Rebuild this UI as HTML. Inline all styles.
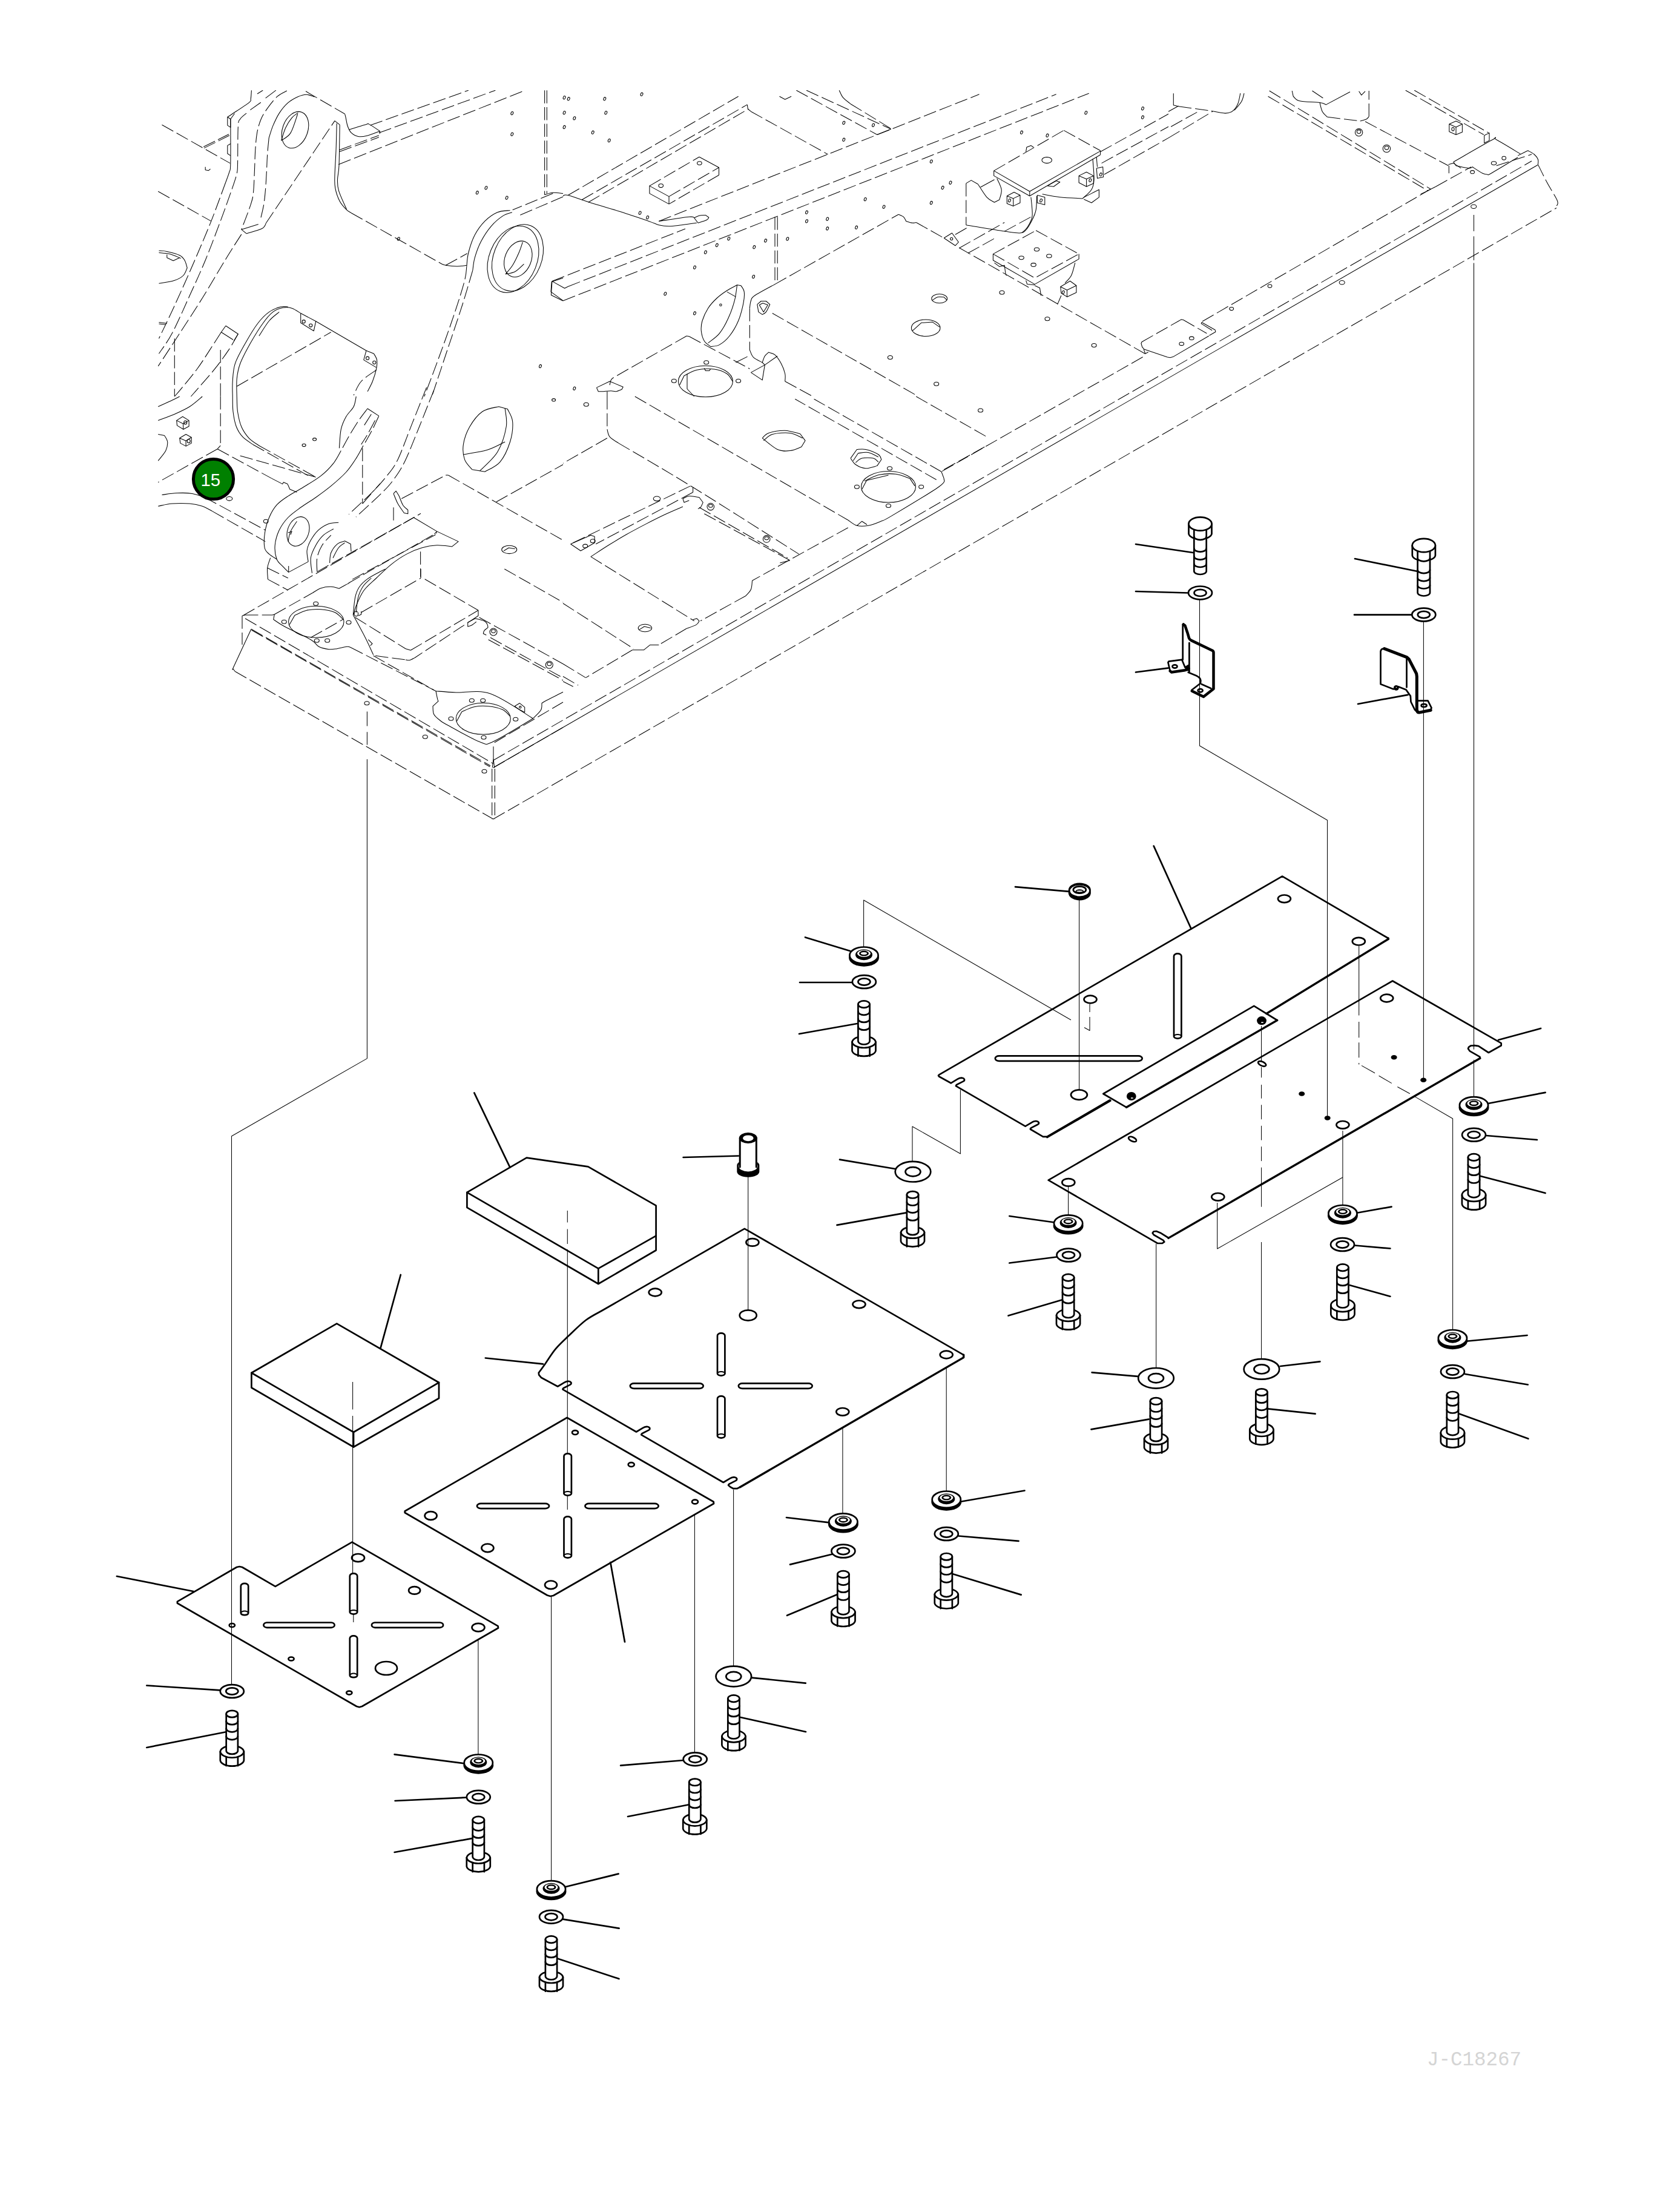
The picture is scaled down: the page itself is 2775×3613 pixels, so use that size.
<!DOCTYPE html>
<html lang="en"><head><meta charset="utf-8"><title>Exploded parts diagram</title>
<style>
html,body{margin:0;padding:0;background:#fff}
body{width:2775px;height:3613px;overflow:hidden;font-family:"Liberation Sans",sans-serif}
svg{display:block}
path,ellipse,circle{fill:none;stroke:#000;stroke-linecap:round;stroke-linejoin:round}
.k{stroke-width:2.7}
.kf{stroke-width:2.7;fill:#fff}
.k2{stroke-width:2}
.k3{stroke-width:3}
.k4{stroke-width:4.2}
.k33{stroke-width:3.4}
.k45{stroke-width:4.5}
.k48{stroke-width:5}
.t{stroke-width:1.05;stroke-linecap:butt}
.td{stroke-width:1.05;stroke-dasharray:30 10;stroke-linecap:butt}
.fs{stroke-width:1.05;stroke-linecap:butt;stroke:#000}
.fd{stroke-width:1.05;stroke-dasharray:21.5 6.2;stroke-linecap:butt;stroke:#000}
.dot{fill:#000;stroke:none}
</style></head><body>
<svg width="2775" height="3613" viewBox="0 0 2775 3613">
<defs><clipPath id="fc"><rect x="261" y="149" width="2514" height="1300"/></clipPath></defs>
<g id="frame" clip-path="url(#fc)">
<path class="fs" d="M815 1268 L2540 272.5"/>
<path class="fd" d="M815 1256 L2530 266"/>
<path class="fd" d="M815 1353 L2571 343.5"/>
<path class="fd" d="M1556 778.6 L1888 589.6"/>
<path class="fd" d="M1986 531 L2363 312.5"/>
<path class="fd" d="M1088.3 365.4 L1617.5 155.8"/>
<path class="fd" d="M911.9 464.6 L1132 378"/>
<path class="fd" d="M938 473.5 L1744.6 155.8"/>
<path class="fd" d="M929.8 497 L1798.7 154.2"/>
<path class="fs" d="M911.9 464.6 L932.7 476.2 L938 473.5"/>
<path class="fs" d="M911.9 464.6 L910.4 487.5 L929.8 497"/>
<path class="fd" d="M267.5 206.2 L380 269.6"/>
<path class="fd" d="M261.2 316.2 L348.8 365.4"/>
<path class="fs" d="M336.2 242.5 L355 233.3"/>
<path class="fs" d="M337.1 244.6 L355.8 235.4"/>
<path class="fs" d="M360 230.8 L377.9 221.7"/>
<path class="fs" d="M360.8 232.9 L378.8 223.8"/>
<path class="fs" d="M415.4 149.2 C415.2 151.5 414.9 159.9 414.2 163.3 C413.5 166.7 416.6 165.3 411.2 169.6 C405.9 173.9 388 185.2 382.1 189.2 C376.2 193.1 376.9 192.6 375.8 193.3 L375.8 207.1 L380.8 210.4 L380.8 196.7 L375.8 193.3"/>
<path class="fs" d="M380.8 196.7 L387.5 187.5"/>
<path class="fs" d="M380.8 237.5 L375.8 240.4 L375.8 253.8 L380.8 257.1"/>
<path class="fs" d="M380.8 196.7 C380.8 209 381.2 256.3 380.8 270.8 C380.5 285.4 380.1 279.2 378.8 284.2 C377.4 289.2 373.9 298.1 372.9 300.8"/>
<path class="fd" d="M372.9 300.8 C368.9 311.6 357.3 343.9 348.8 365.4 C340.2 386.9 331.7 406.7 321.7 430 C311.6 453.3 298.2 483.5 288.3 505 C278.5 526.5 266.8 550.1 262.5 559.2"/>
<path class="fd" d="M407.1 187.1 C405.3 188.7 399 193 396.7 196.7 C394.4 200.3 394 196.7 393.3 209.2 C392.6 221.7 392.9 258.5 392.5 271.7 C392.1 284.9 392.6 281 390.8 288.3 C389.1 295.6 386.7 302.2 382.1 315.4 C377.5 328.6 370.5 348.4 363.3 367.5 C356.2 386.6 347.5 409.9 339.2 430 C330.8 450.1 322.5 468.2 313.3 488.3 C304.2 508.5 292.6 534.9 284.2 550.8 C275.7 566.8 266.1 578.6 262.5 584.2"/>
<path class="fd" d="M398.8 387.1 C394.2 394.2 382.4 412.4 371.7 430 C360.9 447.6 346.7 472.4 334.2 492.5 C321.7 512.6 308.8 532.1 296.7 550.8 C284.5 569.6 267.2 596 261.2 605"/>
<path class="fd" d="M430.8 169.2 L413.3 181.7"/>
<path class="fd" d="M455.8 149.2 L437.1 163.3"/>
<path class="fs" d="M425 155 L434.2 149.2"/>
<path class="fd" d="M473.8 150 C471.2 151.5 463.5 154.5 458.3 159.2 C453.1 163.8 447 171.7 442.5 177.9 C438 184.2 434.2 189.7 431.2 196.7 C428.3 203.6 426.2 210.9 424.6 219.6 C423 228.3 422.4 238.3 421.7 248.8 C421 259.2 421 270.3 420.4 282.1 C419.9 293.9 419.5 309.9 418.3 319.6 C417.2 329.3 416.6 330.5 413.3 340.4 C410.1 350.3 401.2 372.7 398.8 379.2"/>
<path class="fs" d="M519.6 160 C517.4 159.4 510.9 156.2 506.2 156.2 C501.6 156.2 496.9 157.6 491.7 160 C486.5 162.4 480.1 165.9 475 170.4 C469.9 174.9 465.3 180.8 461.2 187.1 C457.2 193.3 453.7 201.1 450.8 207.9 C448 214.7 445.3 224.6 444.2 227.9"/>
<path class="fd" d="M444.2 227.9 C443.8 232.4 442.3 246 441.7 255 C441 264 441 272 440.4 282.1 C439.9 292.2 439.2 305.8 438.3 315.4 C437.5 325 436.8 331.6 435.4 339.6 C434 347.6 430.9 359.4 430 363.3"/>
<path class="fs" d="M398.8 379.2 L426.7 370.4"/>
<path class="fs" d="M398.8 379.2 L407.1 385.8 C411.4 384.4 427.5 380.4 432.9 377.5 C438.3 374.6 438.5 369.9 439.6 368.3"/>
<path class="fd" d="M439.6 368.3 L552.9 199.6"/>
<path class="fs" d="M552.9 199.6 L561.2 206.2"/>
<path class="fd" d="M505 150.8 L569.6 188.3"/>
<path class="fs" d="M569.6 188.3 C569.9 189.4 570.5 191.2 571.2 194.6 C572 197.9 572.7 204.2 574.2 208.3 C575.6 212.4 577.1 216.3 580 219.2 C582.9 222 587.3 224.6 591.7 225.4 C596 226.3 600.3 225.6 606.2 224.2 C612.2 222.7 624 217.9 627.5 216.7 L627.5 220.8"/>
<path class="fs" d="M576.7 214.2 C581.4 212.7 599.4 206.9 605 205.4 C610.6 204 606.2 203.5 610 205.4 C613.8 207.3 624.6 214.8 627.5 216.7"/>
<path class="fs" d="M556.2 203.8 C556 211.2 555.6 234.1 555 248.8 C554.4 263.4 553.1 281.3 552.9 291.7 C552.7 302 552.4 304 553.8 310.8 C555.1 317.6 558.1 326.5 561.2 332.5 C564.4 338.5 569.4 343.5 572.5 346.7 C575.6 349.9 578.8 350.8 580 351.7"/>
<path class="fs" d="M561.2 206.2 C561 217.4 560.6 257.8 560 272.9 C559.4 288 557.6 289.6 557.5 296.7 C557.4 303.8 557.1 307.2 559.6 315.4 C562.1 323.6 570.3 340.8 572.5 345.8"/>
<path class="fd" d="M580 351.7 L730 436.2"/>
<path class="fs" d="M730 436.2 C731 436.6 732.1 437.7 736.2 438.3 C740.4 439 749.2 440 755 440 C760.8 440 768.2 438.6 770.8 438.3"/>
<path class="fd" d="M736.2 438.3 L771.7 418.8"/>
<path class="fd" d="M560 247.9 L625.8 223.8"/>
<path class="fd" d="M560.4 250.8 L625.8 226.7"/>
<path class="fd" d="M559.2 271.7 L865.4 150"/>
<path class="fd" d="M611.2 207.1 L773.8 149.2"/>
<path class="fd" d="M625.8 219.6 L818.3 149.2"/>
<path class="fd" d="M899.6 149.2 L899.6 321.7"/>
<path class="fd" d="M903.3 149.2 L903.3 319.6"/>
<path class="fs" d="M899.6 321.7 C901.9 321.1 908.3 318.7 913.3 318.3 C918.4 318 927.2 319.4 930 319.6"/>
<path class="fd" d="M913.3 319.6 L846.7 346.7"/>
<path class="fd" d="M930 325 L855 357.1"/>
<path class="fs" d="M842.5 347.5 C839 348.1 828.6 347.8 821.7 350.8 C814.7 353.8 807.1 359.2 800.8 365.4 C794.6 371.7 788.7 379.7 784.2 388.3 C779.7 397 776 408.8 773.8 417.5 C771.5 426.2 771.3 436.6 770.8 440.4"/>
<path class="fs" d="M845.8 350.8 C843.2 351.9 835.8 353.3 830 357.1 C824.2 360.9 817.2 366.8 811.2 373.8 C805.3 380.7 799.1 390.1 794.6 398.8 C790.1 407.4 786.5 417.8 784.2 425.8 C781.9 433.8 781.4 443.2 780.8 446.7"/>
<path class="fd" d="M770.8 440.4 C770.3 444.2 770.8 450.5 767.5 463.3 C764.2 476.2 757.8 496.7 750.8 517.5 C743.9 538.3 734.2 565.4 725.8 588.3 C717.5 611.2 705 643.9 700.8 655"/>
<path class="fd" d="M780.8 446.7 C777.9 456.4 770.4 482.8 763.3 505 C756.2 527.2 746.7 555 738.3 580 C730 605 717.5 642.5 713.3 655"/>
<path class="fs" d="M262.5 414.2 C264.7 414.4 270.1 414.2 275.8 415.4 C281.5 416.7 291.8 419.2 296.7 421.7 C301.5 424.1 302.9 426.5 305 430 C307.1 433.5 308.5 440.4 309.2 442.5 C308.1 444.6 306.4 451.5 302.9 455 C299.4 458.5 295.1 461.1 288.3 463.3 C281.6 465.6 266.8 467.5 262.5 468.3"/>
<path class="fs" d="M262.5 417.5 C265.4 417.8 274 418.1 280 419.6 C286 421.1 295.6 425.5 298.8 426.7"/>
<path class="fs" d="M275.8 420.4 L275.8 425.8 L286.2 430.8 L296.7 425.8"/>
<path class="fs" d="M262.5 532.5 L275.8 534.2"/>
<path class="fs" d="M262.5 535 L273.8 536.2"/>
<path class="fs" d="M372.9 538.3 L393.3 551.7 L386.2 563.3"/>
<path class="fs" d="M372.9 538.3 L365.4 548.8 L385 561.2"/>
<path class="fd" d="M365.4 548.8 C362.3 553.6 353.3 567.8 346.7 577.9 C340.1 588 333.5 598.8 325.8 609.2 C318.2 619.6 307.1 632.8 300.8 640.4 C294.6 648.1 290.4 652.6 288.3 655"/>
<path class="fd" d="M393.3 551.7 C390.8 556 384.3 568.3 377.9 577.9 C371.5 587.5 363 599.1 355 609.2 C347 619.2 336.6 630.7 330 638.3 C323.4 646 317.8 652.2 315.4 655"/>
<path class="fd" d="M288.3 559.2 L288.3 655"/>
<path class="fd" d="M364.2 577.9 L364.2 655"/>
<path class="fs" d="M391.2 655 C391.2 650.1 390.3 634.9 391.2 625.8 C392.2 616.8 393 610.6 396.7 600.8 C400.3 591.1 407.1 578.6 413.3 567.5 C419.6 556.4 427.9 542.8 434.2 534.2 C440.4 525.5 445.3 519.7 450.8 515.4 C456.4 511.1 462.3 509.4 467.5 508.3 C472.7 507.3 477.2 507.6 482.1 509.2 C486.9 510.7 494.2 516.1 496.7 517.5"/>
<path class="fs" d="M384.2 655 C384.2 650.8 383.5 639 384.2 630 C384.9 621 384.9 611.2 388.3 600.8 C391.8 590.4 398.8 578.6 405 567.5 C411.2 556.4 419.2 542.8 425.8 534.2 C432.4 525.5 438.3 519.9 444.6 515.4 C450.8 510.9 458.1 508.5 463.3 507.1 C468.5 505.7 473.8 507.1 475.8 507.1"/>
<path class="fs" d="M427.9 555 C430.7 550.8 439 536.6 444.6 530 C450.1 523.4 458.5 517.8 461.2 515.4"/>
<path class="fs" d="M496.7 517.5 L521.7 530.8 L518.3 546.7 L496.7 533.3 L496.7 517.5"/>
<path class="fs" d="M521.7 530.8 L605 579.2"/>
<path class="fs" d="M605 579.2 L617.5 584.2 C618.3 585.9 621.8 590.4 622.5 594.6 C623.2 598.8 622.8 603.3 621.7 609.2 C620.5 615.1 617.8 623.8 615.4 630 C613 636.2 608.5 643.9 607.1 646.7"/>
<path class="fs" d="M605 579.2 L600.8 594.6 L621.7 607.1"/>
<path class="fd" d="M391.2 638.3 L546.7 548.8"/>
<path class="fd" d="M621.7 611.2 C617.5 614.4 602.9 623.1 596.7 630 C590.4 636.9 586.3 649.1 584.2 652.9"/>
<path class="fs" d="M930 459.2 L911.2 465.4 L910 482.1 L930 496.7"/>
<path class="fs" d="M339.2 275.8 L339.2 280.8 L344.6 281.7 L347.5 279.2"/>
<ellipse class="fs" cx="487.5" cy="214.6" rx="20.8" ry="31.2" transform="rotate(20 487.5 214.6)"/>
<path class="fs" d="M464.6 232.1 C465.8 228.6 468.8 217.5 471.7 211.2 C474.6 205 478.6 198.8 482.1 194.6 C485.6 190.4 490.8 187.6 492.5 186.2"/>
<path class="fs" d="M464.6 232.1 C467.2 230 475.5 226.9 480 219.6 C484.5 212.3 489.7 193.5 491.7 188.3"/>
<ellipse class="fs" cx="855" cy="425.8" rx="39.6" ry="57.1" transform="rotate(22 855 425.8)"/>
<ellipse class="fs" cx="847.5" cy="428.3" rx="39.6" ry="57.1" transform="rotate(22 847.5 428.3)"/>
<ellipse class="fs" cx="855.8" cy="427.9" rx="21.7" ry="30.8" transform="rotate(22 855.8 427.9)"/>
<path class="fs" d="M835 452.9 C836.9 450.5 843 444.2 846.7 438.3 C850.3 432.4 854.3 423.9 857.1 417.5 C859.9 411.1 862.3 402.9 863.3 400"/>
<path class="fs" d="M835 452.9 C837.6 452.2 845.8 451.5 850.8 448.8 C855.9 446 863 438.3 865.4 436.2"/>
<ellipse class="fs" cx="845.8" cy="187.1" rx="1.8" ry="2.7" transform="rotate(20 845.8 187.1)"/>
<ellipse class="fs" cx="845.8" cy="221.7" rx="1.8" ry="2.7" transform="rotate(20 845.8 221.7)"/>
<ellipse class="fs" cx="788.3" cy="318.3" rx="1.8" ry="2.7" transform="rotate(20 788.3 318.3)"/>
<ellipse class="fs" cx="802.9" cy="310.4" rx="1.8" ry="2.7" transform="rotate(20 802.9 310.4)"/>
<ellipse class="fs" cx="837.1" cy="326.7" rx="1.8" ry="2.7" transform="rotate(20 837.1 326.7)"/>
<ellipse class="fs" cx="658.3" cy="394.6" rx="1.8" ry="2.7" transform="rotate(20 658.3 394.6)"/>
<ellipse class="fs" cx="892.5" cy="605" rx="1.8" ry="2.7" transform="rotate(20 892.5 605)"/>
<ellipse class="fs" cx="501.7" cy="531.2" rx="2.6" ry="2.6"/>
<ellipse class="fs" cx="513.3" cy="537.5" rx="2.6" ry="2.6"/>
<ellipse class="fs" cx="607.1" cy="591.7" rx="2.6" ry="2.6"/>
<ellipse class="fs" cx="618.3" cy="598.8" rx="2.6" ry="2.6"/>
<path class="fd" d="M938.3 322.5 L1219.6 159.2"/>
<path class="fd" d="M961.2 330 L1234.2 172.9"/>
<path class="fd" d="M971.7 334.2 L1236.2 180"/>
<path class="fs" d="M1234.2 172.9 L1235.4 180 L1240.4 184.2"/>
<path class="fd" d="M1240.4 184.2 L1367.5 255"/>
<path class="fd" d="M1315.4 149.2 L1448.8 222.5"/>
<path class="fd" d="M1332.1 149.2 L1471.7 213.3"/>
<path class="fs" d="M1448.8 222.5 L1471.7 213.3"/>
<path class="fs" d="M1386.2 149.2 C1387.3 151.2 1389.4 157.5 1392.5 161.2 C1395.6 165 1402.9 169.9 1405 171.7"/>
<path class="fd" d="M1405 171.7 L1471.7 212.5"/>
<path class="fs" d="M1287.5 159.2 L1296.7 164.2 L1307.1 159.2"/>
<path class="fs" d="M930 323.8 C931.4 323.5 930.7 320.6 938.3 322.5 C946 324.4 961.2 330.4 975.8 335 C990.4 339.6 1009.9 344.9 1025.8 350 C1041.8 355.1 1061.2 361.8 1071.7 365.4 C1082.1 369 1082.8 370.3 1088.3 371.7 C1093.9 373.1 1098.8 373.8 1105 373.8 C1111.2 373.8 1118.2 372.6 1125.8 371.7 C1133.5 370.8 1146.7 368.9 1150.8 368.3"/>
<path class="fs" d="M1088.3 365.4 C1096.7 364.2 1128.6 359.2 1138.3 358.3 C1148.1 357.4 1145.3 359.7 1146.7 360 L1152.9 368.3"/>
<path class="fs" d="M1146.7 360 C1148.1 359.4 1151.9 357 1155 356.2 C1158.1 355.5 1163.7 355.6 1165.4 355.4 L1170.8 359.2 C1170.3 359.9 1170.5 361.8 1167.5 363.3 C1164.5 364.9 1155.3 367.5 1152.9 368.3"/>
<path class="fd" d="M1072.9 307.1 L1155 259.2"/>
<path class="fs" d="M1155 259.2 L1187.5 276.7 L1187.5 289.2"/>
<path class="fd" d="M1187.5 289.2 L1105 337.1"/>
<path class="fs" d="M1105 337.1 L1072.9 319.6 L1072.9 307.1 L1105 324.6 L1105 337.1"/>
<path class="fd" d="M1105 324.6 L1187.5 276.7"/>
<path class="fd" d="M1280 358.3 L1280 469.6"/>
<path class="fd" d="M1284.2 358.3 L1284.2 468.3"/>
<path class="fd" d="M1280 469.6 L1484.2 354.2"/>
<path class="fs" d="M1484.2 354.2 C1485.6 354.9 1490.4 356.5 1492.5 358.3 C1494.6 360.2 1496 364.2 1496.7 365.4 C1498.4 365.9 1504.3 368 1507.1 368.3 C1509.9 368.7 1512.3 367.6 1513.3 367.5"/>
<path class="fs" d="M1280 469.6 C1274.4 472.7 1253.3 483.8 1246.7 488.3 C1240.1 492.8 1241.8 493.2 1240.4 496.7 C1239 500.1 1238.7 507.1 1238.3 509.2"/>
<path class="fd" d="M1238.3 509.2 L1238.3 577.9"/>
<path class="fs" d="M1238.3 577.9 C1239.4 580 1241.1 586.9 1244.6 590.4 C1248.1 593.9 1256.7 597.4 1259.2 598.8 C1259.9 597 1261.6 591.1 1263.3 588.3 C1265.1 585.6 1268.5 583.1 1269.6 582.1 C1271.3 582.8 1276.5 583.1 1280 586.2 C1283.5 589.4 1287.6 595.6 1290.4 600.8 C1293.2 606 1295.6 612.6 1296.7 617.5 C1297.7 622.4 1296.7 627.9 1296.7 630"/>
<path class="fd" d="M1296.7 630 L1342.5 655"/>
<path class="fs" d="M1240.4 615.4 L1263.3 602.9 L1259.2 598.8"/>
<path class="fs" d="M1240.4 615.4 L1259.2 627.9 L1263.3 602.9 L1284.2 588.3"/>
<path class="fd" d="M1275.8 517.5 L1513.3 652.9"/>
<path class="fs" d="M1250.8 502.9 L1257.1 497.5 L1265.4 497.5 L1271.7 502.9 C1270.6 505 1267.5 512.6 1265.4 515.4 C1263.3 518.2 1260.2 518.9 1259.2 519.6 L1252.9 515.4 L1250.8 502.9"/>
<path class="fs" d="M1254.2 503.8 L1260 500.8 L1268.3 503.8 L1261.2 515.4 L1254.2 503.8"/>
<path class="fs" d="M1217.5 470.8 L1223.8 471.7 C1224.7 473.4 1228.5 477.2 1229.2 482.1 C1229.9 486.9 1229.5 492.8 1227.9 500.8 C1226.3 508.8 1223.4 521 1219.6 530 C1215.8 539 1210.2 548.4 1205 555 C1199.8 561.6 1193.5 566.7 1188.3 569.6 C1183.1 572.5 1176.2 572 1173.8 572.5 C1172 571 1165.9 567.6 1163.3 563.3 C1160.8 559 1158.9 552.2 1158.3 546.7 C1157.8 541.1 1158.1 536.2 1160 530 C1161.9 523.8 1165.6 515.4 1169.6 509.2 C1173.6 502.9 1179 497.4 1184.2 492.5 C1189.4 487.6 1195.3 483.6 1200.8 480 C1206.4 476.4 1214.7 472.4 1217.5 470.8"/>
<path class="fs" d="M1217.5 470.8 C1216.8 475.1 1215.8 487.5 1213.3 496.7 C1210.9 505.8 1207.1 516.8 1202.9 525.8 C1198.8 534.9 1193.9 544 1188.3 550.8 C1182.8 557.6 1172.7 564 1169.6 566.7"/>
<path class="fs" d="M1200.8 482.1 L1215.4 490.4"/>
<path class="fd" d="M1134.2 555 L1013.3 623.8"/>
<path class="fs" d="M1134.2 555 L1138.3 555.8"/>
<path class="fd" d="M1138.3 555.8 L1238.3 609.2"/>
<path class="fd" d="M1215.4 598.8 L1240.4 586.2"/>
<path class="fs" d="M1013.3 623.8 C1012.6 624.4 1010.2 625.8 1009.2 627.9 C1008.1 630 1007.4 634.9 1007.1 636.2"/>
<path class="fs" d="M985.4 640.4 L1007.1 630 L1029.2 639.2 L1027.1 643.3 C1025.5 643.9 1020.5 646.3 1017.5 646.7 C1014.5 647.1 1012.6 645.8 1009.2 645.8 C1005.7 645.8 1000.1 646.5 996.7 646.7 C993.2 646.8 989.7 646.7 988.3 646.7 L985.4 640.4"/>
<path class="fs" d="M1002.9 646.7 L1002.9 655"/>
<ellipse class="fs" cx="1091.7" cy="306.7" rx="3.8" ry="2.9"/>
<ellipse class="fs" cx="1155.4" cy="269.6" rx="3.8" ry="2.9"/>
<ellipse class="fs" cx="1190.4" cy="503.8" rx="1.7" ry="1.7"/>
<ellipse class="fs" cx="932.1" cy="161.2" rx="1.8" ry="2.7" transform="rotate(20 932.1 161.2)"/>
<ellipse class="fs" cx="939.2" cy="163.3" rx="1.8" ry="2.7" transform="rotate(20 939.2 163.3)"/>
<ellipse class="fs" cx="998.8" cy="163.3" rx="1.8" ry="2.7" transform="rotate(20 998.8 163.3)"/>
<ellipse class="fs" cx="1060" cy="155.8" rx="1.8" ry="2.7" transform="rotate(20 1060 155.8)"/>
<ellipse class="fs" cx="932.1" cy="186.2" rx="1.8" ry="2.7" transform="rotate(20 932.1 186.2)"/>
<ellipse class="fs" cx="948.8" cy="195.4" rx="1.8" ry="2.7" transform="rotate(20 948.8 195.4)"/>
<ellipse class="fs" cx="1000.8" cy="186.2" rx="1.8" ry="2.7" transform="rotate(20 1000.8 186.2)"/>
<ellipse class="fs" cx="932.1" cy="210" rx="1.8" ry="2.7" transform="rotate(20 932.1 210)"/>
<ellipse class="fs" cx="979.2" cy="218.8" rx="1.8" ry="2.7" transform="rotate(20 979.2 218.8)"/>
<ellipse class="fs" cx="1006.2" cy="232.1" rx="1.8" ry="2.7" transform="rotate(20 1006.2 232.1)"/>
<ellipse class="fs" cx="1057.1" cy="351.7" rx="1.8" ry="2.7" transform="rotate(20 1057.1 351.7)"/>
<ellipse class="fs" cx="1069.6" cy="359.2" rx="1.8" ry="2.7" transform="rotate(20 1069.6 359.2)"/>
<ellipse class="fs" cx="1393.8" cy="202.9" rx="1.8" ry="2.7" transform="rotate(20 1393.8 202.9)"/>
<ellipse class="fs" cx="1442.5" cy="206.7" rx="1.8" ry="2.7" transform="rotate(20 1442.5 206.7)"/>
<ellipse class="fs" cx="1393.8" cy="230.8" rx="1.8" ry="2.7" transform="rotate(20 1393.8 230.8)"/>
<ellipse class="fs" cx="1538.3" cy="266.7" rx="1.8" ry="2.7" transform="rotate(20 1538.3 266.7)"/>
<ellipse class="fs" cx="1557.1" cy="310" rx="1.8" ry="2.7" transform="rotate(20 1557.1 310)"/>
<ellipse class="fs" cx="1570" cy="301.7" rx="1.8" ry="2.7" transform="rotate(20 1570 301.7)"/>
<ellipse class="fs" cx="1429.2" cy="329.2" rx="1.8" ry="2.7" transform="rotate(20 1429.2 329.2)"/>
<ellipse class="fs" cx="1460" cy="341.7" rx="1.8" ry="2.7" transform="rotate(20 1460 341.7)"/>
<ellipse class="fs" cx="1538.3" cy="335" rx="1.8" ry="2.7" transform="rotate(20 1538.3 335)"/>
<ellipse class="fs" cx="1332.5" cy="350.8" rx="1.8" ry="2.7" transform="rotate(20 1332.5 350.8)"/>
<ellipse class="fs" cx="1332.5" cy="365.4" rx="1.8" ry="2.7" transform="rotate(20 1332.5 365.4)"/>
<ellipse class="fs" cx="1366.7" cy="361.7" rx="1.8" ry="2.7" transform="rotate(20 1366.7 361.7)"/>
<ellipse class="fs" cx="1366.7" cy="377.5" rx="1.8" ry="2.7" transform="rotate(20 1366.7 377.5)"/>
<ellipse class="fs" cx="1414.6" cy="375.8" rx="1.8" ry="2.7" transform="rotate(20 1414.6 375.8)"/>
<ellipse class="fs" cx="1203.8" cy="394.2" rx="1.8" ry="2.7" transform="rotate(20 1203.8 394.2)"/>
<ellipse class="fs" cx="1184.2" cy="405" rx="1.8" ry="2.7" transform="rotate(20 1184.2 405)"/>
<ellipse class="fs" cx="1165.4" cy="416.7" rx="1.8" ry="2.7" transform="rotate(20 1165.4 416.7)"/>
<ellipse class="fs" cx="1245.8" cy="408.3" rx="1.8" ry="2.7" transform="rotate(20 1245.8 408.3)"/>
<ellipse class="fs" cx="1264.6" cy="397.5" rx="1.8" ry="2.7" transform="rotate(20 1264.6 397.5)"/>
<ellipse class="fs" cx="1300.8" cy="394.6" rx="1.8" ry="2.7" transform="rotate(20 1300.8 394.6)"/>
<ellipse class="fs" cx="1147.5" cy="441.7" rx="1.8" ry="2.7" transform="rotate(20 1147.5 441.7)"/>
<ellipse class="fs" cx="1244.6" cy="457.1" rx="1.8" ry="2.7" transform="rotate(20 1244.6 457.1)"/>
<ellipse class="fs" cx="1098.8" cy="485.4" rx="1.8" ry="2.7" transform="rotate(20 1098.8 485.4)"/>
<ellipse class="fs" cx="1147.5" cy="517.5" rx="1.8" ry="2.7" transform="rotate(20 1147.5 517.5)"/>
<ellipse class="fs" cx="948.8" cy="641.7" rx="1.8" ry="2.7" transform="rotate(20 948.8 641.7)"/>
<ellipse class="fs" cx="1165.4" cy="630" rx="45" ry="25.8"/>
<path class="fs" d="M1122.5 636.2 L1130 620.8 C1133.5 619.2 1142.5 613.1 1150.8 611.2 C1159.2 609.4 1171.7 609 1180 610 C1188.3 611 1195.8 614.2 1200.8 617.5 C1205.8 620.8 1208.5 627.9 1210 630"/>
<path class="fs" d="M1135 617.5 L1135 642.5 L1146.7 655"/>
<path class="fs" d="M1163.3 608.3 L1165.4 612.5 L1171.7 612.5 L1173.8 609.2"/>
<ellipse class="fs" cx="1113.3" cy="629.2" rx="4" ry="3"/>
<ellipse class="fs" cx="1219.6" cy="629.2" rx="4" ry="3"/>
<ellipse class="fs" cx="1166.7" cy="598.8" rx="4" ry="3"/>
<path class="fd" d="M1513.3 367.5 L1559.2 393.3"/>
<path class="fd" d="M1584.2 409.2 L1892.5 585"/>
<path class="fs" d="M1559.2 393.3 L1572.5 385 L1583.3 400 L1577.9 405.8 L1559.2 393.3"/>
<path class="fd" d="M1577.9 387.5 L1596.7 376.7"/>
<path class="fd" d="M1584.2 410 L1659.2 367.5"/>
<path class="fd" d="M1598.8 418.3 L1646.7 391.7"/>
<path class="fd" d="M1641.7 282.1 L1757.1 215.4"/>
<path class="fd" d="M1757.1 215.4 L1817.5 248.8"/>
<path class="fs" d="M1817.5 248.8 L1817.5 255.8"/>
<path class="fs" d="M1641.7 282.1 L1641.7 290.4 L1700.8 323.8 L1817.5 255.8"/>
<path class="fs" d="M1641.7 282.1 L1700.8 316.2 L1817.5 249.6"/>
<path class="fs" d="M1700.8 316.2 L1700.8 323.8"/>
<path class="fs" d="M1694.6 250.8 L1695.8 243.3 L1702.9 240.4 L1707.1 243.3"/>
<path class="fs" d="M1595.8 302.9 L1604.2 297.9 L1615.4 304.2"/>
<path class="fd" d="M1595.8 302.9 L1595.8 371.7"/>
<path class="fs" d="M1595.8 371.7 C1606.4 373.4 1644.4 379.9 1659.2 382.1 C1673.9 384.3 1678.3 385.3 1684.2 385 C1690.1 384.7 1691.1 383.6 1694.6 380 C1698.1 376.4 1702.2 368.9 1705 363.3 C1707.8 357.8 1710 353.3 1711.2 346.7 C1712.5 340.1 1712.3 327.6 1712.5 323.8"/>
<path class="fs" d="M1615.4 304.2 C1617.8 307.8 1625.5 320.8 1630 325.8 C1634.5 330.8 1640.4 332.8 1642.5 334.2 L1650.8 330 C1651.4 327.2 1654.9 319.2 1654.2 313.3 C1653.5 307.4 1647.9 297.7 1646.7 294.6"/>
<path class="fs" d="M1619.6 309.2 L1642.5 296.7"/>
<path class="fs" d="M1702.9 325.8 C1703.3 331 1706 348.8 1705 357.1 C1704 365.4 1699.4 371.3 1696.7 375.8 C1693.9 380.3 1689.7 382.8 1688.3 384.2"/>
<path class="fs" d="M1663.3 323.8 L1675 317.5 L1685 322.5 L1685 335 L1673.8 340.4 L1663.3 336.2 L1663.3 323.8 L1673.8 327.9 L1685 322.5"/>
<path class="fs" d="M1673.8 327.9 L1673.8 340.4"/>
<path class="fs" d="M1713.3 322.5 L1725.8 325.8 L1725.8 338.3 L1713.3 335 L1713.3 322.5"/>
<path class="fs" d="M1782.1 290.4 L1794.6 284.2 L1806.2 290.4 L1806.2 302.9 L1794.6 308.3 L1782.1 301.7 L1782.1 290.4 L1794.6 295.8 L1806.2 290.4"/>
<path class="fs" d="M1794.6 295.8 L1794.6 308.3"/>
<path class="fs" d="M1811.2 277.9 L1821.7 275.8 L1822.5 292.5 L1812.5 294.6 L1811.2 277.9"/>
<path class="fs" d="M1790.4 325.8 C1792.5 324.8 1798.8 321.7 1802.9 319.6 C1807.1 317.5 1813.3 314.4 1815.4 313.3 L1815.4 325.8 L1802.9 335 L1790.4 329.2"/>
<path class="fs" d="M1805 262.5 C1805.3 268.2 1807.4 288.2 1807.1 296.7 C1806.7 305.1 1806 308.1 1802.9 313.3 C1799.8 318.5 1790.8 325.5 1788.3 327.9 C1782.1 327.6 1761.9 327 1750.8 325.8 C1739.7 324.7 1726.5 321.7 1721.7 320.8"/>
<path class="fs" d="M1811.2 260 L1812.5 275.8"/>
<path class="fd" d="M1659.2 382.1 L1709.2 355"/>
<path class="fs" d="M1730 307.1 L1744.6 298.8 L1750.8 300.8 L1740.4 308.3 L1730 307.1"/>
<path class="fd" d="M1817.5 250.8 L1930 188.3"/>
<path class="fd" d="M1819.6 269.6 L1930 209.2"/>
<path class="fd" d="M1823.8 288.3 L1930 227.9"/>
<path class="fd" d="M1640.4 419.6 L1711.2 380.8"/>
<path class="fd" d="M1711.2 380.8 L1782.1 419.6"/>
<path class="fs" d="M1782.1 419.6 L1782.1 427.9 L1709.2 469.6 L1640.4 430 L1640.4 419.6"/>
<path class="fd" d="M1640.4 419.6 L1709.2 459.2 L1782.1 419.6"/>
<path class="fs" d="M1642.5 434.2 L1650.8 440.4 L1659.2 438.3 C1659.5 440.8 1660.6 450.1 1661.2 452.9 C1661.9 455.7 1663 454.7 1663.3 455"/>
<path class="fs" d="M1694.6 463.3 L1696.7 469.6 L1709.2 470.8"/>
<path class="fs" d="M1709.2 471.7 L1717.5 475.8 L1719.6 488.3"/>
<path class="fs" d="M1775.8 434.2 C1774.8 437.6 1772.4 449.4 1769.6 455 C1766.8 460.6 1760.9 465.4 1759.2 467.5"/>
<path class="fs" d="M1751.7 473.8 L1767.5 464.2 L1777.9 471.7 L1777.9 483.3 L1762.5 490.4 L1752.9 484.2 L1751.7 473.8 L1762.5 479.2 L1777.9 471.7"/>
<path class="fs" d="M1762.5 479.2 L1762.5 490.4"/>
<path class="fd" d="M1752.9 488.3 L1746.7 502.9"/>
<ellipse class="fs" cx="1729.2" cy="264.6" rx="8.3" ry="5"/>
<ellipse class="fs" cx="1551.7" cy="493.3" rx="12.9" ry="7.5"/>
<path class="fs" d="M1540.4 495.8 C1541.8 495 1545.6 491.7 1548.8 490.8 C1551.9 490 1557.4 490.8 1559.2 490.8 L1564.2 495.8"/>
<ellipse class="fs" cx="1529.2" cy="541.7" rx="23.8" ry="13.8"/>
<path class="fs" d="M1507.1 546.7 L1521.7 533.3 L1540.4 532.1 L1552.1 540.4"/>
<ellipse class="fs" cx="1712.5" cy="412.1" rx="4.2" ry="2.9"/>
<ellipse class="fs" cx="1687.1" cy="425.8" rx="4.2" ry="2.9"/>
<ellipse class="fs" cx="1732.9" cy="422.9" rx="4.2" ry="2.9"/>
<ellipse class="fs" cx="1707.1" cy="437.5" rx="4.2" ry="2.9"/>
<ellipse class="fs" cx="1571.7" cy="394.6" rx="2.1" ry="2.1"/>
<ellipse class="fs" cx="1793.8" cy="186.2" rx="1.8" ry="2.7" transform="rotate(20 1793.8 186.2)"/>
<ellipse class="fs" cx="1887.5" cy="179.2" rx="1.8" ry="2.7" transform="rotate(20 1887.5 179.2)"/>
<ellipse class="fs" cx="1887.5" cy="193.8" rx="1.8" ry="2.7" transform="rotate(20 1887.5 193.8)"/>
<ellipse class="fs" cx="1687.5" cy="218.8" rx="1.8" ry="2.7" transform="rotate(20 1687.5 218.8)"/>
<ellipse class="fs" cx="1730" cy="223.8" rx="1.8" ry="2.7" transform="rotate(20 1730 223.8)"/>
<ellipse class="fs" cx="1667.5" cy="331.2" rx="1.8" ry="2.7" transform="rotate(20 1667.5 331.2)"/>
<ellipse class="fs" cx="1719.6" cy="331.2" rx="1.8" ry="2.7" transform="rotate(20 1719.6 331.2)"/>
<ellipse class="fs" cx="1800.8" cy="297.9" rx="1.8" ry="2.7" transform="rotate(20 1800.8 297.9)"/>
<ellipse class="fs" cx="1818.3" cy="288.3" rx="1.8" ry="2.7" transform="rotate(20 1818.3 288.3)"/>
<ellipse class="fs" cx="1756.2" cy="482.9" rx="1.8" ry="2.7" transform="rotate(20 1756.2 482.9)"/>
<ellipse class="fs" cx="1655" cy="483.3" rx="4" ry="3"/>
<ellipse class="fs" cx="1730" cy="526.7" rx="4" ry="3"/>
<ellipse class="fs" cx="1807.1" cy="570.4" rx="4" ry="3"/>
<ellipse class="fs" cx="1470.4" cy="590.4" rx="4" ry="3"/>
<ellipse class="fs" cx="1546.7" cy="634.2" rx="4" ry="3"/>
<path class="fs" d="M2523.8 248.8 C2525.5 249.8 2531.4 252.6 2534.2 255 C2536.9 257.4 2539.4 260.6 2540.4 263.3 C2541.5 266.1 2540.4 270.3 2540.4 271.7"/>
<path class="fd" d="M2540.4 271.7 C2542.8 276.5 2549.8 291.1 2555 300.8 C2560.2 310.6 2568.8 323.8 2571.7 330 C2574.6 336.2 2572.4 336.9 2572.5 338.3 L2567.5 343.3"/>
<path class="fs" d="M2507.1 257.1 L2523.8 248.8"/>
<path class="fd" d="M2471.7 273.8 L2530 255"/>
<path class="fs" d="M2400.8 267.5 C2411.6 261.4 2453.6 236.9 2465.4 230.8 C2477.2 224.7 2464 226.9 2471.7 230.8 C2479.3 234.7 2504.7 250.3 2511.2 254.2"/>
<path class="fs" d="M2400.8 267.5 L2405 273.8 C2408.5 274.4 2421.3 277.6 2425.8 277.9 C2430.3 278.3 2431 276.2 2432.1 275.8 C2434.9 277.6 2444.6 284.2 2448.8 286.2 C2452.9 288.3 2454.7 288.3 2457.1 288.3 C2459.5 288.3 2455 291 2463.3 286.2 C2471.7 281.5 2499.8 264.4 2507.1 260"/>
<path class="fs" d="M2451.7 223.8 L2460 219.6 L2460 232.1 L2451.7 236.2 L2451.7 223.8"/>
<path class="fs" d="M2393.8 205 L2405 200 L2415.4 205 L2415.4 218.3 L2405 222.5 L2393.8 217.5 L2393.8 205 L2405 210 L2415.4 205"/>
<path class="fs" d="M2405 210 L2405 222.5"/>
<path class="fd" d="M2321.7 149.2 L2450.8 222.5"/>
<path class="fd" d="M2336.2 149.2 L2459.2 219.6"/>
<path class="fd" d="M2096.7 150 L2363.3 312.5"/>
<path class="fd" d="M2094.6 159.2 L2359.2 315.4"/>
<path class="fd" d="M2255 200.8 L2392.5 273.8"/>
<path class="fs" d="M2346.7 320.8 C2349.4 319.4 2359.2 314.6 2363.3 312.5 C2367.5 310.4 2370.3 309 2371.7 308.3"/>
<path class="fs" d="M2392.5 271.7 L2400.8 269.6 L2413.3 277.9"/>
<path class="fs" d="M2393.3 273.8 L2393.3 286.2"/>
<path class="fd" d="M2371.7 308.3 L2430 275.8"/>
<path class="fs" d="M1938.3 154.2 L1938.3 173.8 L1946.7 175.8"/>
<path class="fd" d="M1946.7 175.8 L2000.8 183.3"/>
<path class="fs" d="M2000.8 183.3 C2004.7 184 2017.8 187.1 2023.8 187.1 C2029.7 187.1 2032.8 185.9 2036.2 183.3 C2039.7 180.8 2042.5 176.5 2044.6 171.7 C2046.7 166.8 2048.1 157.1 2048.8 154.2"/>
<path class="fs" d="M2039.2 182.1 C2041.1 179.7 2048.2 172.2 2050.8 167.5 C2053.5 162.8 2054.3 156.4 2055 154.2"/>
<path class="fd" d="M1930 184.2 L1946.7 175"/>
<path class="fd" d="M1934.2 209.2 L1977.9 185"/>
<path class="fd" d="M1930 227.9 L2002.9 184.2"/>
<path class="fs" d="M2134.2 150 L2136.2 159.2 C2138 160.4 2139.4 164.9 2146.7 166.7 C2154 168.4 2172.7 168.5 2180 169.6 C2187.3 170.6 2188.7 172.4 2190.4 172.9 L2230 151.7"/>
<path class="fs" d="M2180 169.6 C2180.7 172 2182.1 180.2 2184.2 184.2 C2186.2 188.1 2191.1 191.8 2192.5 193.3"/>
<path class="fd" d="M2192.5 193.3 L2246.7 200"/>
<path class="fs" d="M2246.7 200 C2248.4 199.4 2254.7 197.9 2257.1 196.7 C2259.5 195.4 2260.6 193.2 2261.2 192.5"/>
<path class="fd" d="M2261.2 192.5 L2261.2 150"/>
<path class="fs" d="M2244.6 150.8 L2248.8 157.1 L2255 150.8"/>
<path class="fd" d="M2167.5 150 L2190.4 165.4"/>
<ellipse class="fs" cx="2467.5" cy="269.6" rx="4.2" ry="2.9"/>
<ellipse class="fs" cx="2484.2" cy="261.2" rx="3.3" ry="2.9"/>
<ellipse class="fs" cx="2400" cy="213.3" rx="2.1" ry="2.9"/>
<ellipse class="fs" cx="2244.6" cy="218.8" rx="6.2" ry="6.2"/>
<ellipse class="fs" cx="2244.6" cy="217.5" rx="3.3" ry="2.9"/>
<ellipse class="fs" cx="2290.4" cy="245.4" rx="6.2" ry="6.2"/>
<ellipse class="fs" cx="2290.4" cy="244.2" rx="3.3" ry="2.9"/>
<ellipse class="fs" cx="2097.5" cy="472.5" rx="3.4" ry="2.6"/>
<ellipse class="fs" cx="2034.2" cy="510" rx="3.4" ry="2.6"/>
<ellipse class="fs" cx="2432.1" cy="284.2" rx="3.4" ry="2.6"/>
<ellipse class="fs" cx="2216.7" cy="466.7" rx="4.5" ry="3.2"/>
<ellipse class="fs" cx="2434.2" cy="341.2" rx="4.5" ry="3.2"/>
<path class="fd" d="M364.2 655 L364.2 736.2"/>
<path class="fs" d="M364.2 736.2 L359.2 741.7"/>
<path class="fd" d="M359.2 741.7 L261.2 796.7"/>
<path class="fd" d="M359.2 741.7 L448.8 790.4"/>
<path class="fs" d="M448.8 790.4 L466.7 799.6 L468.3 796.7 L475 799.6 L478.8 808.3 L490.4 813.3"/>
<path class="fd" d="M396.7 752.9 L521.7 788.3"/>
<path class="fs" d="M261.2 694.6 C265.8 692.8 279.7 688 288.3 684.2 C297 680.3 305.7 676.5 313.3 671.7 C321 666.8 330.7 657.8 334.2 655"/>
<path class="fs" d="M261.2 671.7 C265.1 669.9 278.3 664 284.2 661.2 C290.1 658.5 294.6 656 296.7 655"/>
<path class="fs" d="M291.7 694.6 L301.7 688.3 L312.1 694.6 L312.1 704.2 L302.9 709.2 L292.5 702.9 L291.7 694.6 L302.5 700 L312.1 694.6"/>
<path class="fs" d="M302.5 700 L302.9 709.2"/>
<path class="fs" d="M296.7 723.8 L307.1 717.5 L316.2 722.5 L316.2 732.1 L307.1 737.1 L297.9 732.1 L296.7 723.8 L307.1 728.3 L316.2 722.5"/>
<path class="fs" d="M307.1 728.3 L307.1 737.1"/>
<path class="fs" d="M261.2 717.5 L271.7 719.6 C272.5 721.3 276.3 725.8 276.7 730 C277 734.2 276.3 739.4 273.8 744.6 C271.2 749.8 263.3 758.5 261.2 761.2"/>
<path class="fs" d="M267.5 817.5 C271.7 817 284.2 814.9 292.5 814.6 C300.8 814.2 309.9 814.2 317.5 815.4 C325.1 816.6 334.9 820.6 338.3 821.7"/>
<path class="fs" d="M261.2 836.2 C265.1 835.6 275.5 832.8 284.2 832.1 C292.8 831.4 305 831.4 313.3 832.1 C321.7 832.8 327.9 834.2 334.2 836.2 C340.4 838.3 348.1 843.2 350.8 844.6"/>
<path class="fd" d="M338.3 821.7 L438.3 875.8"/>
<path class="fd" d="M350.8 844.6 L438.3 894.6"/>
<path class="fs" d="M384.2 655 C384.3 659.2 384 671.7 385 680 C386 688.3 387.8 698.1 390.4 705 C393.1 711.9 396.3 716.8 400.8 721.7 C405.3 726.5 414.7 732.1 417.5 734.2"/>
<path class="fd" d="M417.5 734.2 L513.3 788.3"/>
<path class="fs" d="M391.2 655 C391.5 659.2 391.2 671.7 392.5 680 C393.8 688.3 395.6 697.7 398.8 705 C401.9 712.3 406.4 718.5 411.2 723.8 C416.1 729 425.1 734.2 427.9 736.2"/>
<path class="fd" d="M427.9 736.2 L521.7 788.3"/>
<path class="fd" d="M607.1 675 C604.7 678.3 597.7 686.8 592.5 694.6 C587.3 702.4 580.7 713.3 575.8 721.7 C571 730 565.4 740.8 563.3 744.6"/>
<path class="fs" d="M563.3 744.6 C561.2 748.1 556.4 758.5 550.8 765.4 C545.3 772.4 538.3 779.7 530 786.2 C521.7 792.8 509.9 799.4 500.8 805 C491.8 810.6 483.1 814.7 475.8 819.6 C468.5 824.4 462.3 828.3 457.1 834.2 C451.9 840.1 447.8 847.4 444.6 855 C441.3 862.6 438.8 871.7 437.5 880 C436.2 888.3 435.9 899.1 437.1 905 C438.3 910.9 441.3 912.3 444.6 915.4 C447.9 918.5 455 922.4 457.1 923.8"/>
<path class="fs" d="M607.1 675 L625.8 687.1"/>
<path class="fd" d="M625.8 687.1 C624.1 690.8 618.9 702.4 615.4 709.2 C611.9 716 607.6 723.4 605 727.9 C602.4 732.4 600.8 734.9 600 736.2"/>
<path class="fs" d="M600 736.2 C598.1 739.7 593.1 749.8 588.3 757.1 C583.6 764.4 578.6 772.4 571.7 780 C564.7 787.6 555 796 546.7 802.9 C538.3 809.9 530 815.8 521.7 821.7 C513.3 827.6 504.3 832.8 496.7 838.3 C489 843.9 481.7 848.8 475.8 855 C469.9 861.2 464.9 868.2 461.2 875.8 C457.6 883.5 454.9 892.8 454.2 900.8 C453.5 908.8 454.9 917.8 457.1 923.8 C459.3 929.7 464.2 932.6 467.5 936.2 C470.8 939.9 475.1 943.9 476.7 945.4"/>
<path class="fs" d="M588.3 655 C587.6 657.8 586.9 666.1 584.2 671.7 C581.4 677.2 575.1 682.1 571.7 688.3 C568.2 694.6 565.2 700.5 563.3 709.2 C561.5 717.8 560.9 735.2 560.4 740.4"/>
<path class="fd" d="M619.6 694.6 C617.5 698.4 610.9 710.9 607.1 717.5 C603.3 724.1 598.4 731.4 596.7 734.2"/>
<path class="fd" d="M613.3 684.2 L598.8 707.1"/>
<path class="fs" d="M476.7 945.4 L476.7 935"/>
<path class="fs" d="M476.7 945.4 L509.2 927.9"/>
<path class="fs" d="M509.2 927.9 C508.8 924.8 506.4 915.1 507.1 909.2 C507.8 903.3 510.2 898.1 513.3 892.5 C516.5 886.9 521 880.3 525.8 875.8 C530.7 871.3 536.9 867.5 542.5 865.4 C548.1 863.3 556.4 863.7 559.2 863.3"/>
<path class="fs" d="M515.4 946.7 C515.1 942.5 512.3 929.3 513.3 921.7 C514.4 914 518.2 907.1 521.7 900.8 C525.1 894.6 529.3 888.7 534.2 884.2 C539 879.7 548.1 875.5 550.8 873.8"/>
<path class="fs" d="M544.6 930 C544.9 927.2 544.6 918.5 546.7 913.3 C548.8 908.1 553.3 902 557.1 898.8 C560.9 895.5 567.5 894.6 569.6 893.8 L579.2 898.8 L580 911.2"/>
<path class="fs" d="M550 921.7 C551.5 918.9 555.9 909.2 559.2 905 C562.4 900.8 567.8 898.1 569.6 896.7"/>
<path class="fd" d="M523.8 944.6 C523.8 940.8 522.4 929 523.8 921.7 C525.1 914.4 528.3 907.1 532.1 900.8 C535.9 894.6 544.2 886.9 546.7 884.2"/>
<path class="fd" d="M598.8 740.4 L598.8 832.1"/>
<path class="fd" d="M598.8 832.1 L627.9 798.8"/>
<path class="fd" d="M704.6 640 C700.6 649.9 688.8 679.7 680.8 699.6 C672.9 719.4 664.2 744.5 657.1 759.2 C649.9 773.8 645.1 778.4 637.9 787.5 C630.8 796.6 624.4 803.4 614.2 813.8 C603.9 824.1 582.6 843.6 576.2 849.6"/>
<path class="fd" d="M716.7 644.6 C712.7 654.5 700.8 684.7 692.9 704.2 C685 723.6 676.3 746.5 669.2 761.2 C662 776 656.7 783.3 650 792.5 C643.3 801.7 639.1 806 628.8 816.2 C618.4 826.5 594.7 847.8 587.9 854.2"/>
<path class="fs" d="M446.7 921.7 C445.8 924.4 442.4 932.4 441.7 938.3 C441 944.2 442.4 954 442.5 957.1"/>
<path class="fd" d="M442.5 957.1 L475.8 975"/>
<path class="fd" d="M441.7 938.3 L475.8 955"/>
<path class="fs" d="M650 815.4 L654.2 811.2 C655 812.6 657.3 815.8 659.2 819.6 C661 823.4 663 830.3 665.4 834.2 C667.8 838 672.4 841.1 673.8 842.5 L673.8 848.8 L667.5 847.5 C665.8 844.9 660 837.4 657.1 832.1 C654.2 826.7 651.2 818.2 650 815.4"/>
<path class="fd" d="M650 838.3 L650 863.3"/>
<path class="fd" d="M663.3 823.8 L736.2 785"/>
<path class="fs" d="M736.2 785 L740.4 785"/>
<path class="fd" d="M740.4 785 L930 892.5"/>
<path class="fd" d="M819.6 829.2 L930 767.5"/>
<path class="fs" d="M823.8 671.7 L838.3 675.8 C839.7 679.3 846 687.6 846.7 696.7 C847.4 705.7 846 718.9 842.5 730 C839 741.1 832.8 755.1 825.8 763.3 C818.9 771.5 805 776.5 800.8 779.2 L780 775.8 C777.9 773.1 769.9 766.1 767.5 759.2 C765.1 752.2 764 743.2 765.4 734.2 C766.8 725.1 770.6 714 775.8 705 C781 696 788.7 685.6 796.7 680 C804.7 674.4 819.2 673.1 823.8 671.7"/>
<path class="fs" d="M834.2 675 C834.5 680 838.3 693.1 836.2 705 C834.2 716.9 829 734.5 821.7 746.7 C814.4 758.8 797.4 772.7 792.5 777.9"/>
<path class="fs" d="M765.4 750.8 C772 749.6 793.5 746.8 805 743.3 C816.5 739.9 829.3 732.2 834.2 730"/>
<path class="fd" d="M523.8 944.6 L683.3 855"/>
<path class="fs" d="M683.3 855 L721.7 877.9"/>
<path class="fs" d="M721.7 877.9 L757.1 894.6 L746.7 902.9 C742.5 902.6 730 900.5 721.7 900.8 C713.3 901.2 705 902.6 696.7 905 C688.3 907.4 680 910.9 671.7 915.4 C663.3 919.9 655 925.5 646.7 932.1 C638.3 938.7 629.3 947.7 621.7 955 C614 962.3 606.4 968.2 600.8 975.8 C595.3 983.5 591.1 994.2 588.3 1000.8 C585.6 1007.4 584.9 1013 584.2 1015.4"/>
<path class="fs" d="M721.7 877.9 L717.5 882.1"/>
<path class="fd" d="M575.8 963.3 L721.7 880"/>
<path class="fd" d="M582.1 957.1 L719.6 883.3"/>
<path class="fd" d="M694.6 911.2 L694.6 952.9"/>
<ellipse class="fs" cx="492.5" cy="877.9" rx="17.5" ry="25" transform="rotate(20 492.5 877.9)"/>
<path class="fs" d="M475.8 894.6 C476.5 891.8 477.6 883.5 480 877.9 C482.4 872.4 488.7 864 490.4 861.2"/>
<path class="fs" d="M475.8 880 L482.1 877.9 L480 883.3"/>
<ellipse class="fs" cx="378.8" cy="823.8" rx="5" ry="3.3"/>
<ellipse class="fs" cx="439.2" cy="861.2" rx="3.8" ry="2.9"/>
<ellipse class="fs" cx="841.2" cy="907.9" rx="12.5" ry="6.7"/>
<path class="fs" d="M832.1 910 L840.4 905 L850.8 906.7"/>
<ellipse class="fs" cx="502.1" cy="735.4" rx="3" ry="2.2"/>
<ellipse class="fs" cx="519.6" cy="725.8" rx="3" ry="2.2"/>
<ellipse class="fs" cx="914.6" cy="660.8" rx="3" ry="2.2"/>
<ellipse class="fs" cx="306.2" cy="697.9" rx="2.5" ry="3"/>
<ellipse class="fs" cx="311.7" cy="728.8" rx="2.5" ry="3"/>
<path class="fs" d="M400 1017.3 L405 1016"/>
<path class="fd" d="M405 1016 L450 1016"/>
<path class="fs" d="M450 1016 L453.3 1015"/>
<path class="fd" d="M400 1017.3 L400 1065"/>
<path class="fs" d="M415 1039.3 C410.3 1049.4 391.7 1089.1 386.7 1100 C381.7 1110.9 385.3 1104.2 385 1105 L388.3 1109.3"/>
<path class="fd" d="M388.3 1109.3 L815 1353.3"/>
<path class="fd" d="M415 1039.3 L810 1265"/>
<path class="fd" d="M415.7 1041 L809.3 1266.7"/>
<path class="fd" d="M405 1021.7 L815 1261.7"/>
<path class="fd" d="M401.7 1016.7 L695 848.3"/>
<path class="fd" d="M812.7 1270 L812.7 1353.3"/>
<path class="fd" d="M817.3 1270 L817.3 1353.3"/>
<path class="fs" d="M813.3 1268.3 L815 1253.3 L816.7 1268.3"/>
<path class="fd" d="M815 1233.3 L815 1253.3"/>
<path class="fs" d="M453.3 1015 L451.7 1023.3 C454.7 1025.3 459.7 1029.4 470 1035 C480.3 1040.6 503.9 1051.1 513.3 1056.7 C522.8 1062.2 521.7 1065.7 526.7 1068.3 C531.7 1071 538.3 1072.1 543.3 1072.7 C548.3 1073.2 551.7 1072.4 556.7 1071.7 C561.7 1070.9 569.4 1068.6 573.3 1068.3 C577.2 1068.1 578.9 1069.7 580 1070"/>
<path class="fd" d="M453.3 1015 L516.7 979.3"/>
<path class="fs" d="M516.7 979.3 C518.9 978.1 525 973.3 530 971.7 C535 970 541.7 969.2 546.7 969.3 C551.7 969.4 557.8 971.8 560 972.3 C561.7 971.4 567.2 968.2 570 966.7 C572.8 965.2 575.6 963.9 576.7 963.3"/>
<path class="fd" d="M513.3 1053.3 L566.7 1023.3"/>
<path class="fs" d="M583.3 1016 C583.9 1011.1 585 994.3 586.7 986.7 C588.3 979 590 975 593.3 970 C596.7 965 601.1 960.8 606.7 956.7 C612.2 952.5 621.7 947.8 626.7 945 C631.7 942.2 635 940.8 636.7 940"/>
<path class="fs" d="M588.3 1011.7 C588.9 1007.5 589.7 993.9 591.7 986.7 C593.6 979.4 596.4 973.6 600 968.3 C603.6 963.1 611.1 957.2 613.3 955"/>
<path class="fs" d="M591.7 1017.3 L596.7 1015 L596.7 1010"/>
<path class="fs" d="M583.3 1016 C586.7 1022.2 597.8 1042.4 603.3 1053.3 C608.9 1064.3 614.4 1076.9 616.7 1081.7"/>
<path class="fs" d="M608.3 1056.7 L615 1063.3 L611.7 1066.7"/>
<path class="fd" d="M596.7 1011.7 L695 955"/>
<path class="fd" d="M695 940 L695 955"/>
<path class="fd" d="M701.7 956.7 L790 1008.3"/>
<path class="fs" d="M790 1008.3 L790 1017.3"/>
<path class="fd" d="M790 1017.3 L685 1086.7"/>
<path class="fs" d="M685 1086.7 C683.6 1087.3 679.2 1090.1 676.7 1090.7 C674.2 1091.2 671.1 1090.1 670 1090"/>
<path class="fd" d="M586.7 1020 L670 1071.7"/>
<path class="fs" d="M670 1071.7 L678.3 1074.3"/>
<path class="fd" d="M678.3 1074.3 L790 1008.3"/>
<path class="fd" d="M620 1083.3 L670 1090"/>
<path class="fs" d="M772.7 1028.3 L785 1021.7 C787.5 1022.4 796.7 1024.3 800 1026 C803.3 1027.7 804 1029.9 805 1031.7 C806 1033.4 805.8 1035.8 806 1036.7 C805 1037.5 801.3 1040 800 1041.7 C798.7 1043.3 798.6 1045.8 798.3 1046.7 L803.3 1049.3"/>
<path class="fs" d="M772.7 1028.3 L772.7 1035 C773.6 1034.7 776 1034.6 778.3 1033.3 C780.7 1032.1 785.3 1028.3 786.7 1027.3"/>
<path class="fd" d="M791.7 1020 L930 1096.7"/>
<path class="fd" d="M810 1053.3 L930 1120"/>
<path class="fd" d="M806.7 1056.7 L930 1124"/>
<path class="fd" d="M833.3 940 L930 995"/>
<path class="fs" d="M720 1141.7 C725.6 1142.1 738.3 1143.3 753.3 1144 C768.3 1144.7 788.9 1138.9 810 1146 C831.1 1153.1 868.3 1179.9 880 1186.7"/>
<path class="fs" d="M720 1141.7 C720.4 1143.9 722 1152.2 722.7 1155 C723.3 1157.8 723.8 1157.8 724 1158.3 L715 1166.7 C715.3 1168.9 714.7 1176.1 716.7 1180 C718.6 1183.9 722.8 1186.9 726.7 1190 C730.6 1193.1 728.9 1192.3 740 1198.3 C751.1 1204.3 780.8 1221.6 793.3 1226 C805.8 1230.4 800.6 1231.4 815 1225 C829.4 1218.6 869.2 1193.6 880 1187.3"/>
<path class="fs" d="M880 1187.3 C882.2 1185 890.8 1177.6 893.3 1173.3 C895.8 1169.1 894.7 1163.6 895 1161.7 C896.4 1160.8 897.5 1159.7 903.3 1156.7 C909.2 1153.6 925.6 1145.6 930 1143.3"/>
<path class="fs" d="M850 1166.7 L858.3 1161.7 L866.7 1168.3 L866.7 1176.7 C865.6 1176.1 862.8 1175 860 1173.3 C857.2 1171.7 851.7 1167.8 850 1166.7"/>
<path class="fd" d="M580 1070 L720 1141.7"/>
<path class="fd" d="M616.7 1083.3 L716.7 1140"/>
<path class="fd" d="M816.7 1226.7 L930 1160"/>
<path class="fd" d="M815 1268.3 L930 1201.7"/>
<ellipse class="fs" cx="522.3" cy="1027.3" rx="45.7" ry="26"/>
<path class="fs" d="M478.3 1031.7 L486.7 1016.7 C490 1015.3 499.4 1010 506.7 1008.3 C513.9 1006.7 522.2 1006.1 530 1006.7 C537.8 1007.2 547.2 1008.9 553.3 1011.7 C559.4 1014.4 564.4 1021.4 566.7 1023.3"/>
<ellipse class="fs" cx="798.3" cy="1187.3" rx="45" ry="26"/>
<path class="fs" d="M754.3 1191.7 L762.7 1176 C766.1 1174.6 776 1169.2 783.3 1167.7 C790.7 1166.1 798.9 1165.9 806.7 1166.7 C814.4 1167.4 824 1169.6 830 1172.3 C836 1175.1 840.6 1181.5 842.7 1183.3"/>
<ellipse class="fs" cx="521.7" cy="997.3" rx="4" ry="3"/>
<ellipse class="fs" cx="469.3" cy="1027.3" rx="4" ry="3"/>
<ellipse class="fs" cx="576" cy="1028.3" rx="4" ry="3"/>
<ellipse class="fs" cx="523.3" cy="1058.3" rx="4" ry="3"/>
<ellipse class="fs" cx="540.7" cy="1058.3" rx="4" ry="3"/>
<ellipse class="fs" cx="779.3" cy="1157.3" rx="4" ry="3"/>
<ellipse class="fs" cx="797.7" cy="1157.3" rx="4" ry="3"/>
<ellipse class="fs" cx="745" cy="1187.3" rx="4" ry="3"/>
<ellipse class="fs" cx="851.7" cy="1188.3" rx="4" ry="3"/>
<ellipse class="fs" cx="799" cy="1218.3" rx="4" ry="3"/>
<ellipse class="fs" cx="588.3" cy="1014" rx="3.3" ry="4"/>
<ellipse class="fs" cx="859.3" cy="1168.3" rx="1.7" ry="1.7"/>
<ellipse class="fs" cx="606" cy="1161.7" rx="4" ry="3"/>
<ellipse class="fs" cx="702.3" cy="1217.3" rx="4" ry="3"/>
<ellipse class="fs" cx="800" cy="1274.3" rx="4" ry="3"/>
<ellipse class="fs" cx="815" cy="1044" rx="6" ry="6"/>
<ellipse class="fs" cx="815" cy="1042.7" rx="3.3" ry="2.7"/>
<ellipse class="fs" cx="907.3" cy="1098.3" rx="6" ry="6"/>
<ellipse class="fs" cx="907.3" cy="1097" rx="3.3" ry="2.7"/>
<path class="fs" d="M1400.8 859.2 C1403.3 860.7 1409.9 866.8 1415.4 868.3 C1421 869.9 1427.6 869.5 1434.2 868.3 C1440.8 867.2 1448.8 863.8 1455 861.2 C1461.2 858.7 1455.7 862.4 1471.7 852.9 C1487.6 843.4 1536.3 814.6 1550.8 804.2 C1565.4 793.8 1557.8 792.7 1559.2 790.4 L1555 779.2"/>
<path class="fd" d="M1555 779.2 L1344.6 659.2"/>
<path class="fd" d="M1546.7 792.5 L1313.3 659.2"/>
<path class="fs" d="M1415.4 868.3 L1423.8 861.2 L1432.1 866.7"/>
<path class="fd" d="M1400.8 871.7 L1242.5 959.2"/>
<path class="fs" d="M1242.5 959.2 C1242.2 961.6 1242.2 969.6 1240.4 973.8 C1238.7 977.9 1233.5 982.4 1232.1 984.2"/>
<path class="fd" d="M1232.1 984.2 L1157.1 1025.8"/>
<path class="fs" d="M1144.6 1023.8 L1150.8 1021.7 L1155 1025.8 C1154.2 1026.9 1153.5 1030 1150 1032.1 C1146.5 1034.2 1136.8 1037.3 1134.2 1038.3"/>
<path class="fd" d="M1134.2 1038.3 L1088.3 1065.4"/>
<path class="fs" d="M1088.3 1065.4 L1073.8 1065.4 L1063.3 1073.8 L1044.6 1073.8"/>
<path class="fd" d="M1044.6 1073.8 L967.5 1119.6"/>
<path class="fd" d="M930 1096.7 L967.5 1119.6"/>
<path class="fd" d="M930 996.7 L1046.7 1071.7"/>
<path class="fs" d="M1259.2 723.8 C1260.9 722.4 1263.3 717.5 1269.6 715.4 C1275.8 713.3 1288 711 1296.7 711.2 C1305.3 711.5 1317.5 715.8 1321.7 716.7 L1330 727.9 L1323.8 738.3 C1320.6 739.4 1311.6 743.9 1305 744.6 C1298.4 745.3 1291.8 746 1284.2 742.5 C1276.5 739 1263.3 726.9 1259.2 723.8"/>
<path class="fs" d="M1261.2 727.9 C1263.7 726.2 1268.5 719.6 1275.8 717.5 C1283.1 715.4 1296.7 714.4 1305 715.4 C1313.3 716.5 1322.4 722.4 1325.8 723.8"/>
<path class="fs" d="M1405 757.1 L1415.4 742.5 C1417.8 742.5 1424.1 741.1 1430 742.5 C1435.9 743.9 1446.5 748.1 1450.8 750.8 C1455.1 753.6 1455 757.8 1455.8 759.2 L1448.8 769.6 C1445.6 770.3 1435.9 774.1 1430 773.8 C1424.1 773.4 1417.5 770.3 1413.3 767.5 C1409.2 764.7 1406.4 758.8 1405 757.1"/>
<path class="fs" d="M1409.2 761.2 L1417.5 748.8 C1420.3 748.5 1428.6 746.5 1434.2 747.5 C1439.7 748.5 1448.1 753.8 1450.8 755"/>
<path class="fs" d="M1413.3 764.2 C1415.1 763 1418.9 758.3 1423.8 757.1 C1428.6 755.9 1438 756 1442.5 757.1 C1447 758.1 1449.4 762.3 1450.8 763.3"/>
<path class="fd" d="M1002.9 655 L1002.9 709.2"/>
<path class="fs" d="M1002.9 709.2 C1003.6 711.2 1004 717.8 1007.1 721.7 C1010.2 725.5 1019.2 730.3 1021.7 732.1"/>
<path class="fd" d="M1021.7 732.1 C1042.2 744.2 1094.9 774.4 1144.6 805 C1194.2 835.6 1290.4 897 1319.6 915.4"/>
<path class="fd" d="M1048.8 655 L1400.8 859.2"/>
<path class="fd" d="M1002.9 723.8 L930 765.4"/>
<path class="fs" d="M1144.6 805 L1144.6 813.3"/>
<path class="fd" d="M1144.6 813.3 L984.2 898.8"/>
<path class="fd" d="M1140.4 802.9 L942.5 898.8"/>
<path class="fs" d="M975.8 919.6 C980.7 916.5 995.3 906.9 1005 900.8 C1014.7 894.8 1023.8 889.2 1034.2 883.3 C1044.6 877.4 1057.1 870.8 1067.5 865.4 C1077.9 860 1086.6 855.6 1096.7 850.8 C1106.7 846.1 1122.7 839.4 1127.9 837.1"/>
<path class="fs" d="M1127.9 823.8 C1129.7 823.1 1133.8 819.9 1138.3 819.6 C1142.8 819.2 1152.2 821.3 1155 821.7 L1161.2 830 C1160.6 831.4 1158.5 836.6 1157.1 838.3 C1155.7 840.1 1153.6 840.1 1152.9 840.4"/>
<path class="fs" d="M1127.9 823.8 L1130 830 L1138.3 826.7"/>
<path class="fd" d="M1163.3 848.8 L1305 925.8"/>
<path class="fd" d="M1155 838.3 L1300.8 921.7"/>
<path class="fs" d="M1288.3 930 L1305 925.8"/>
<path class="fd" d="M975.8 919.6 L1146.7 1025.8"/>
<path class="fs" d="M942.5 898.8 L975.8 884.2 L982.1 886.2 L982.1 896.7 L959.2 910 L942.5 898.8"/>
<path class="fd" d="M1513.3 655 L1630 721.7"/>
<path class="fd" d="M1559.2 775.8 L1630 736.2"/>
<path class="fd" d="M930 1125.8 L946.7 1134.2"/>
<path class="fd" d="M930 1117.5 L955 1132.1"/>
<ellipse class="fs" cx="1467.5" cy="804.2" rx="45" ry="25.8"/>
<path class="fs" d="M1423.8 808.3 L1432.1 792.5 C1435.6 791.1 1444.9 785.7 1452.9 784.2 C1460.9 782.6 1471.7 782.3 1480 783.3 C1488.3 784.4 1499.1 789.2 1502.9 790.4 L1511.2 802.9"/>
<path class="fs" d="M1427.9 794.6 L1467.5 785"/>
<ellipse class="fs" cx="1085" cy="823.8" rx="5.8" ry="3.8"/>
<ellipse class="fs" cx="1065.4" cy="1037.5" rx="11.2" ry="6.2"/>
<path class="fs" d="M1055.8 1040.4 L1064.2 1035 L1075 1037.5"/>
<ellipse class="fs" cx="1415.4" cy="804.2" rx="4" ry="3"/>
<ellipse class="fs" cx="1521.7" cy="804.2" rx="4" ry="3"/>
<ellipse class="fs" cx="1469.6" cy="773.8" rx="4" ry="3"/>
<ellipse class="fs" cx="1467.5" cy="835.4" rx="4" ry="3"/>
<ellipse class="fs" cx="968.3" cy="668.3" rx="4" ry="3"/>
<ellipse class="fs" cx="1619.6" cy="677.9" rx="4" ry="3"/>
<ellipse class="fs" cx="966.7" cy="902.1" rx="4" ry="3"/>
<ellipse class="fs" cx="979.2" cy="893.8" rx="4" ry="3"/>
<ellipse class="fs" cx="1173.8" cy="837.1" rx="5.8" ry="5.8"/>
<ellipse class="fs" cx="1173.8" cy="835.8" rx="3.3" ry="2.5"/>
<ellipse class="fs" cx="1266.2" cy="890.4" rx="5.8" ry="5.8"/>
<ellipse class="fs" cx="1266.2" cy="889.2" rx="3.3" ry="2.5"/>
<path class="fd" d="M1885.8 565 L1948.8 529.2"/>
<path class="fs" d="M1948.8 529.2 C1949.2 529 1950.3 528.1 1951.2 527.9 C1952.2 527.8 1953.7 528.3 1954.2 528.3"/>
<path class="fd" d="M1954.2 528.3 L1993.3 550.8"/>
<path class="fs" d="M1885.8 565 L1885 567.5 L1886.7 573.3 L1890 577.1 L1928.3 590 L1932.9 590.8 L1937.5 589.6 L1996.7 555"/>
<path class="fs" d="M1985 532.5 L2007.1 545 L2007.9 548.3 L1997.5 554.2"/>
<path class="fs" d="M1985 532.5 L1984.2 534.6 L2002.1 545.8"/>
<path class="fs" d="M1889.2 577.1 L1891.7 584.2 L1896.7 581.7"/>
<ellipse class="fs" cx="1951.7" cy="567.9" rx="3.8" ry="2.7"/>
<ellipse class="fs" cx="1968.3" cy="558.8" rx="3.8" ry="2.7"/>
</g>
<g id="thin">
<path class="t" d="M606.4 1175.4L606.4 1199.6"/>
<path class="t" d="M606.4 1209.2L606.4 1230.4"/>
<path class="t" d="M606.4 1254.2 L606.4 1748.6 L382.5 1877 L382.5 2782"/>
<path class="t" d="M2434.5 355L2434.5 382"/>
<path class="t" d="M2434.5 390.4L2434.5 430"/>
<path class="t" d="M2434.5 434.5L2434.5 1733.8"/>
<path class="t" d="M2434.5 1750.8L2434.5 1814"/>
<path class="t" d="M1981.5 990 L1981.5 1232 L2192.5 1355 L2192.5 1845"/>
<path class="t" d="M2351.4 1027L2351.4 1784"/>
<path class="t" d="M1782.6 1485L1782.6 1800"/>
<path class="t" d="M1426.6 1565 L1426.6 1487 L1769 1685"/>
<path class="t" d="M1791 1697.5 L1800 1702.5 L1800 1680"/>
<path class="t" d="M1800 1672L1800 1659"/>
<path class="t" d="M1586.4 1800.5 L1586.4 1906 L1507 1861 L1507 1918"/>
<path class="t" d="M2244.7 1563L2244.7 1677.6"/>
<path class="t" d="M2244.7 1687.9L2244.7 1714.2"/>
<path class="t" d="M2244.7 1722.3L2244.7 1747.2"/>
<path class="t" d="M2244.7 1756L2244.7 1758.5"/>
<path class="t" d="M2249 1760.4L2271 1772.8"/>
<path class="t" d="M2277.6 1777.2L2298.8 1789.6"/>
<path class="t" d="M2308.3 1795.5L2328.8 1806.8"/>
<path class="t" d="M2336.9 1811.6 L2399.6 1848 L2399.6 2200"/>
<path class="t" d="M2083.5 1695L2083.5 1752.3"/>
<path class="t" d="M2083.5 1763L2083.5 1780.2"/>
<path class="t" d="M2083.5 1792L2083.5 1814.7"/>
<path class="t" d="M2083.5 1825.3L2083.5 1849.2"/>
<path class="t" d="M2083.5 1859.8L2083.5 1883.6"/>
<path class="t" d="M2083.5 1894.2L2083.5 1918.1"/>
<path class="t" d="M2083.5 1928.7L2083.5 1993.7"/>
<path class="t" d="M2083.5 2052L2083.5 2245"/>
<path class="t" d="M2217.9 1868 L2217.9 1993"/>
<path class="t" d="M2217.9 1945 L2010.7 2063 L2010.7 1987"/>
<path class="t" d="M1764.6 1960L1764.6 2010"/>
<path class="t" d="M1909.7 2055L1909.7 2260"/>
<path class="t" d="M1235.7 1943L1235.7 2164"/>
<path class="t" d="M937.3 2000L937.3 2019.5"/>
<path class="t" d="M937.3 2030.5L937.3 2055"/>
<path class="t" d="M937.3 2064L937.3 2402"/>
<path class="t" d="M937.3 2470L937.3 2494"/>
<path class="t" d="M582.6 2283L582.6 2328.6"/>
<path class="t" d="M582.6 2339L582.6 2600"/>
<path class="t" d="M583.8 2666L583.8 2680"/>
<path class="t" d="M1391.9 2360L1391.9 2502"/>
<path class="t" d="M1563.2 2259L1563.2 2466"/>
<path class="t" d="M1211.6 2461L1211.6 2752"/>
<path class="t" d="M1147.4 2502L1147.4 2895"/>
<path class="t" d="M910.6 2638L910.6 3108"/>
<path class="t" d="M789.9 2708L789.9 2900"/>
</g>
<g id="leaders">
<path class="k" d="M1876 899L1971 913"/>
<path class="k" d="M1876 977L1963 979.5"/>
<path class="k" d="M1876 1110.5L1929.5 1103.6"/>
<path class="k" d="M2238 923L2342 944"/>
<path class="k" d="M2237 1015.7L2332 1015.7"/>
<path class="k" d="M2243 1163L2325.5 1147.8"/>
<path class="k" d="M1905.7 1397.6L1967.6 1534.5"/>
<path class="k" d="M1677 1465.2L1766.7 1472.9"/>
<path class="k" d="M1330 1548.5L1404 1571"/>
<path class="k" d="M1321 1623L1407 1623"/>
<path class="k" d="M1320 1708L1416 1691"/>
<path class="k" d="M2475 1718L2545 1699"/>
<path class="k" d="M2458 1823L2552.6 1804.8"/>
<path class="k" d="M2455 1876L2539 1883"/>
<path class="k" d="M2445.5 1943L2552.6 1971"/>
<path class="k" d="M2242.6 2003.5L2298.5 1993.6"/>
<path class="k" d="M2238 2057.5L2296.4 2062.5"/>
<path class="k" d="M2229.8 2123.2L2296.4 2141.7"/>
<path class="k" d="M1667.3 2009L1742 2019.5"/>
<path class="k" d="M1667.3 2086.5L1745.8 2076.5"/>
<path class="k" d="M1665.5 2173.5L1754.8 2147.3"/>
<path class="k" d="M2424.4 2215.5L2522.6 2206"/>
<path class="k" d="M2420 2270L2523.8 2287.5"/>
<path class="k" d="M2410.7 2335.7L2524.4 2376.8"/>
<path class="k" d="M1803.6 2267.3L1879.8 2273.8"/>
<path class="k" d="M1802.4 2361.3L1897.6 2344.6"/>
<path class="k" d="M2114.9 2257L2180.4 2249.4"/>
<path class="k" d="M2094 2327.4L2172.6 2335.7"/>
<path class="k" d="M1128.6 1912L1221.4 1909.5"/>
<path class="k" d="M1387 1915.7L1478.6 1931"/>
<path class="k" d="M1382.4 2023.8L1497.6 2003.3"/>
<path class="k" d="M783.3 1805.4L842.4 1928.6"/>
<path class="k" d="M661.8 2106L628.6 2226.8"/>
<path class="k" d="M801.8 2243.5L897 2253.3"/>
<path class="k" d="M1008.3 2581L1032 2712.5"/>
<path class="k" d="M192.9 2604L319.6 2629"/>
<path class="k" d="M242.3 2784.5L364.3 2792.3"/>
<path class="k" d="M242.3 2887L373.2 2861.3"/>
<path class="k" d="M651.6 2898.4L768 2913.5"/>
<path class="k" d="M652.6 2975L771 2969.5"/>
<path class="k" d="M651.6 3060L779.6 3037.2"/>
<path class="k" d="M933.6 3117.3L1021.6 3095.6"/>
<path class="k" d="M929.9 3170.6L1022.6 3185.7"/>
<path class="k" d="M921.4 3235.7L1022.4 3269"/>
<path class="k" d="M1025.1 2916.7L1129.5 2908"/>
<path class="k" d="M1037 3001L1137 2981.5"/>
<path class="k" d="M1241.5 2771.6L1330.7 2780.7"/>
<path class="k" d="M1222.9 2837L1331 2861"/>
<path class="k" d="M1299 2507L1370 2515.4"/>
<path class="k" d="M1305 2584.6L1375 2567.5"/>
<path class="k" d="M1300 2668.8L1383.3 2634"/>
<path class="k" d="M1585.4 2481L1692.5 2462.5"/>
<path class="k" d="M1583.3 2537.5L1682.5 2545.8"/>
<path class="k" d="M1573 2600L1686.7 2634.6"/>
</g>
<g id="fasteners">
<path class="kf" d="M1963.5 865.5 L1963.5 882.1 A19.1 9.5 0 0 0 2001.5 882.1 L2001.5 865.5"/>
<path class="kf" d="M1972.3 874 L1972.3 943.5 A10.2 5.5 0 0 0 1992.7 943.5 L1992.7 874 Z"/>
<path class="k" d="M1972.3 886.8 A10.2 5 0 0 0 1992.7 886.8"/>
<path class="k" d="M1972.3 906.1 A10.2 5.5 0 0 0 1992.7 906.1"/>
<path class="k" d="M1972.3 919.1 A10.2 5.5 0 0 0 1992.7 919.1"/>
<path class="k" d="M1972.3 931.5 A10.2 5.5 0 0 0 1992.7 931.5"/>
<ellipse class="kf" cx="1982.5" cy="865.5" rx="19.1" ry="11.2"/>
<ellipse class="kf" cx="1982.5" cy="979.4" rx="19.5" ry="10.9"/>
<ellipse class="k" cx="1982.5" cy="979.4" rx="10" ry="5.6"/>
<path class="kf" d="M2332.8 901 L2332.8 917.6 A19.1 9.5 0 0 0 2370.9 917.6 L2370.9 901"/>
<path class="kf" d="M2341.6 909.5 L2341.6 979 A10.2 5.5 0 0 0 2362 979 L2362 909.5 Z"/>
<path class="k" d="M2341.6 922.3 A10.2 5 0 0 0 2362 922.3"/>
<path class="k" d="M2341.6 941.6 A10.2 5.5 0 0 0 2362 941.6"/>
<path class="k" d="M2341.6 954.6 A10.2 5.5 0 0 0 2362 954.6"/>
<path class="k" d="M2341.6 967 A10.2 5.5 0 0 0 2362 967"/>
<ellipse class="kf" cx="2351.8" cy="901" rx="19.1" ry="11.2"/>
<ellipse class="kf" cx="2351.8" cy="1015.5" rx="19.5" ry="10.9"/>
<ellipse class="k" cx="2351.8" cy="1015.5" rx="10" ry="5.6"/>
<ellipse cx="1783.3" cy="1475" rx="18.6" ry="12.5" style="fill:#000;stroke:none"/>
<ellipse cx="1783.3" cy="1470.5" rx="18.6" ry="12.1" style="fill:#000;stroke:none"/>
<ellipse cx="1783.3" cy="1471.5" rx="15.7" ry="9" style="fill:#fff;stroke:none"/>
<ellipse class="k" cx="1783.3" cy="1470" rx="10.5" ry="5.6"/>
<ellipse cx="1783.3" cy="1473" rx="7" ry="3.8" style="fill:#000;stroke:none"/>
<ellipse cx="1783.3" cy="1472.3" rx="5" ry="1.1" style="fill:#fff;stroke:none"/>
<ellipse cx="1427" cy="1582.1" rx="25" ry="14.6" style="fill:#000;stroke:none"/>
<ellipse class="kf" cx="1427" cy="1578.2" rx="23.6" ry="13.7"/>
<ellipse cx="1427" cy="1577.2" rx="14" ry="9" style="fill:#000;stroke:none"/>
<ellipse cx="1427" cy="1575.3" rx="11" ry="5.7" style="fill:#fff;stroke:none"/>
<ellipse cx="1427" cy="1575.1" rx="8" ry="4.5" style="fill:#000;stroke:none"/>
<ellipse cx="1427" cy="1575.1" rx="5.1" ry="2.1" style="fill:#fff;stroke:none"/>
<ellipse class="kf" cx="1427.4" cy="1622" rx="19.5" ry="10.9"/>
<ellipse class="k" cx="1427.4" cy="1622" rx="10" ry="5.6"/>
<path class="kf" d="M1407.5 1721.4 A19.6 10.7 0 0 1 1446.5 1721.4 L1446.5 1735.9 A19.6 10 0 0 1 1407.5 1735.9 Z"/>
<path class="k" d="M1407.5 1721.4 A19.6 10.7 0 0 0 1446.5 1721.4"/>
<path class="k" d="M1417.4 1730.7L1417.4 1744.7"/>
<path class="k" d="M1436.6 1730.7L1436.6 1744.7"/>
<path class="kf" d="M1417.4 1659.1 L1417.4 1719.8 A9.6 5.7 0 0 0 1436.6 1719.8 L1436.6 1659.1 A9.6 5.7 0 0 0 1417.4 1659.1 Z"/>
<path class="k" d="M1417.4 1659.1 A9.6 5.7 0 0 0 1436.6 1659.1"/>
<path class="k" d="M1417.4 1671.1 A9.6 5.7 0 0 0 1436.6 1671.1"/>
<path class="k" d="M1417.4 1683.2 A9.6 5.7 0 0 0 1436.6 1683.2"/>
<path class="k" d="M1417.4 1696 A9.6 5.7 0 0 0 1436.6 1696"/>
<ellipse cx="2434.5" cy="1829.7" rx="25" ry="14.6" style="fill:#000;stroke:none"/>
<ellipse class="kf" cx="2434.5" cy="1825.8" rx="23.6" ry="13.7"/>
<ellipse cx="2434.5" cy="1824.8" rx="14" ry="9" style="fill:#000;stroke:none"/>
<ellipse cx="2434.5" cy="1822.9" rx="11" ry="5.7" style="fill:#fff;stroke:none"/>
<ellipse cx="2434.5" cy="1822.7" rx="8" ry="4.5" style="fill:#000;stroke:none"/>
<ellipse cx="2434.5" cy="1822.7" rx="5.1" ry="2.1" style="fill:#fff;stroke:none"/>
<ellipse class="kf" cx="2434.5" cy="1874.8" rx="19.5" ry="10.9"/>
<ellipse class="k" cx="2434.5" cy="1874.8" rx="10" ry="5.6"/>
<path class="kf" d="M2414.9 1974.2 A19.6 10.7 0 0 1 2454.1 1974.2 L2454.1 1988.7 A19.6 10 0 0 1 2414.9 1988.7 Z"/>
<path class="k" d="M2414.9 1974.2 A19.6 10.7 0 0 0 2454.1 1974.2"/>
<path class="k" d="M2424.9 1983.5L2424.9 1997.5"/>
<path class="k" d="M2444.1 1983.5L2444.1 1997.5"/>
<path class="kf" d="M2424.9 1911.9 L2424.9 1972.6 A9.6 5.7 0 0 0 2444.1 1972.6 L2444.1 1911.9 A9.6 5.7 0 0 0 2424.9 1911.9 Z"/>
<path class="k" d="M2424.9 1911.9 A9.6 5.7 0 0 0 2444.1 1911.9"/>
<path class="k" d="M2424.9 1923.9 A9.6 5.7 0 0 0 2444.1 1923.9"/>
<path class="k" d="M2424.9 1936 A9.6 5.7 0 0 0 2444.1 1936"/>
<path class="k" d="M2424.9 1948.8 A9.6 5.7 0 0 0 2444.1 1948.8"/>
<ellipse cx="2217.9" cy="2008.6" rx="25" ry="14.6" style="fill:#000;stroke:none"/>
<ellipse class="kf" cx="2217.9" cy="2004.7" rx="23.6" ry="13.7"/>
<ellipse cx="2217.9" cy="2003.7" rx="14" ry="9" style="fill:#000;stroke:none"/>
<ellipse cx="2217.9" cy="2001.8" rx="11" ry="5.7" style="fill:#fff;stroke:none"/>
<ellipse cx="2217.9" cy="2001.6" rx="8" ry="4.5" style="fill:#000;stroke:none"/>
<ellipse cx="2217.9" cy="2001.6" rx="5.1" ry="2.1" style="fill:#fff;stroke:none"/>
<ellipse class="kf" cx="2217.5" cy="2056" rx="19.5" ry="10.9"/>
<ellipse class="k" cx="2217.5" cy="2056" rx="10" ry="5.6"/>
<path class="kf" d="M2198.3 2156.4 A19.6 10.7 0 0 1 2237.5 2156.4 L2237.5 2170.9 A19.6 10 0 0 1 2198.3 2170.9 Z"/>
<path class="k" d="M2198.3 2156.4 A19.6 10.7 0 0 0 2237.5 2156.4"/>
<path class="k" d="M2208.3 2165.7L2208.3 2179.7"/>
<path class="k" d="M2227.5 2165.7L2227.5 2179.7"/>
<path class="kf" d="M2208.3 2094.1 L2208.3 2154.8 A9.6 5.7 0 0 0 2227.5 2154.8 L2227.5 2094.1 A9.6 5.7 0 0 0 2208.3 2094.1 Z"/>
<path class="k" d="M2208.3 2094.1 A9.6 5.7 0 0 0 2227.5 2094.1"/>
<path class="k" d="M2208.3 2106.1 A9.6 5.7 0 0 0 2227.5 2106.1"/>
<path class="k" d="M2208.3 2118.2 A9.6 5.7 0 0 0 2227.5 2118.2"/>
<path class="k" d="M2208.3 2131 A9.6 5.7 0 0 0 2227.5 2131"/>
<ellipse cx="1764.6" cy="2024.9" rx="25" ry="14.6" style="fill:#000;stroke:none"/>
<ellipse class="kf" cx="1764.6" cy="2021" rx="23.6" ry="13.7"/>
<ellipse cx="1764.6" cy="2020" rx="14" ry="9" style="fill:#000;stroke:none"/>
<ellipse cx="1764.6" cy="2018.1" rx="11" ry="5.7" style="fill:#fff;stroke:none"/>
<ellipse cx="1764.6" cy="2017.9" rx="8" ry="4.5" style="fill:#000;stroke:none"/>
<ellipse cx="1764.6" cy="2017.9" rx="5.1" ry="2.1" style="fill:#fff;stroke:none"/>
<ellipse class="kf" cx="1765" cy="2073.5" rx="19.5" ry="10.9"/>
<ellipse class="k" cx="1765" cy="2073.5" rx="10" ry="5.6"/>
<path class="kf" d="M1745 2172.9 A19.6 10.7 0 0 1 1784.1 2172.9 L1784.1 2187.4 A19.6 10 0 0 1 1745 2187.4 Z"/>
<path class="k" d="M1745 2172.9 A19.6 10.7 0 0 0 1784.1 2172.9"/>
<path class="k" d="M1755 2182.2L1755 2196.2"/>
<path class="k" d="M1774.2 2182.2L1774.2 2196.2"/>
<path class="kf" d="M1755 2110.6 L1755 2171.3 A9.6 5.7 0 0 0 1774.2 2171.3 L1774.2 2110.6 A9.6 5.7 0 0 0 1755 2110.6 Z"/>
<path class="k" d="M1755 2110.6 A9.6 5.7 0 0 0 1774.2 2110.6"/>
<path class="k" d="M1755 2122.6 A9.6 5.7 0 0 0 1774.2 2122.6"/>
<path class="k" d="M1755 2134.7 A9.6 5.7 0 0 0 1774.2 2134.7"/>
<path class="k" d="M1755 2147.5 A9.6 5.7 0 0 0 1774.2 2147.5"/>
<ellipse cx="2399.4" cy="2214.6" rx="25" ry="14.6" style="fill:#000;stroke:none"/>
<ellipse class="kf" cx="2399.4" cy="2210.7" rx="23.6" ry="13.7"/>
<ellipse cx="2399.4" cy="2209.7" rx="14" ry="9" style="fill:#000;stroke:none"/>
<ellipse cx="2399.4" cy="2207.8" rx="11" ry="5.7" style="fill:#fff;stroke:none"/>
<ellipse cx="2399.4" cy="2207.6" rx="8" ry="4.5" style="fill:#000;stroke:none"/>
<ellipse cx="2399.4" cy="2207.6" rx="5.1" ry="2.1" style="fill:#fff;stroke:none"/>
<ellipse class="kf" cx="2399.4" cy="2266" rx="19.5" ry="10.9"/>
<ellipse class="k" cx="2399.4" cy="2266" rx="10" ry="5.6"/>
<path class="kf" d="M2379.8 2367 A19.6 10.7 0 0 1 2419 2367 L2419 2381.5 A19.6 10 0 0 1 2379.8 2381.5 Z"/>
<path class="k" d="M2379.8 2367 A19.6 10.7 0 0 0 2419 2367"/>
<path class="k" d="M2389.8 2376.3L2389.8 2390.3"/>
<path class="k" d="M2409 2376.3L2409 2390.3"/>
<path class="kf" d="M2389.8 2304.7 L2389.8 2365.4 A9.6 5.7 0 0 0 2409 2365.4 L2409 2304.7 A9.6 5.7 0 0 0 2389.8 2304.7 Z"/>
<path class="k" d="M2389.8 2304.7 A9.6 5.7 0 0 0 2409 2304.7"/>
<path class="k" d="M2389.8 2316.7 A9.6 5.7 0 0 0 2409 2316.7"/>
<path class="k" d="M2389.8 2328.8 A9.6 5.7 0 0 0 2409 2328.8"/>
<path class="k" d="M2389.8 2341.6 A9.6 5.7 0 0 0 2409 2341.6"/>
<ellipse class="kf" cx="1909.5" cy="2276.8" rx="29.3" ry="16.8"/>
<ellipse class="k" cx="1909.5" cy="2276.8" rx="12.5" ry="7.6"/>
<path class="kf" d="M1890 2377.1 A19.6 10.7 0 0 1 1929 2377.1 L1929 2391.6 A19.6 10 0 0 1 1890 2391.6 Z"/>
<path class="k" d="M1890 2377.1 A19.6 10.7 0 0 0 1929 2377.1"/>
<path class="k" d="M1899.9 2386.4L1899.9 2400.4"/>
<path class="k" d="M1919.1 2386.4L1919.1 2400.4"/>
<path class="kf" d="M1899.9 2314.8 L1899.9 2375.5 A9.6 5.7 0 0 0 1919.1 2375.5 L1919.1 2314.8 A9.6 5.7 0 0 0 1899.9 2314.8 Z"/>
<path class="k" d="M1899.9 2314.8 A9.6 5.7 0 0 0 1919.1 2314.8"/>
<path class="k" d="M1899.9 2326.8 A9.6 5.7 0 0 0 1919.1 2326.8"/>
<path class="k" d="M1899.9 2338.9 A9.6 5.7 0 0 0 1919.1 2338.9"/>
<path class="k" d="M1899.9 2351.7 A9.6 5.7 0 0 0 1919.1 2351.7"/>
<ellipse class="kf" cx="2083.9" cy="2261.9" rx="29.3" ry="16.8"/>
<ellipse class="k" cx="2083.9" cy="2261.9" rx="12.5" ry="7.6"/>
<path class="kf" d="M2064.3 2362.3 A19.6 10.7 0 0 1 2103.5 2362.3 L2103.5 2376.8 A19.6 10 0 0 1 2064.3 2376.8 Z"/>
<path class="k" d="M2064.3 2362.3 A19.6 10.7 0 0 0 2103.5 2362.3"/>
<path class="k" d="M2074.3 2371.6L2074.3 2385.6"/>
<path class="k" d="M2093.5 2371.6L2093.5 2385.6"/>
<path class="kf" d="M2074.3 2300 L2074.3 2360.7 A9.6 5.7 0 0 0 2093.5 2360.7 L2093.5 2300 A9.6 5.7 0 0 0 2074.3 2300 Z"/>
<path class="k" d="M2074.3 2300 A9.6 5.7 0 0 0 2093.5 2300"/>
<path class="k" d="M2074.3 2312 A9.6 5.7 0 0 0 2093.5 2312"/>
<path class="k" d="M2074.3 2324.1 A9.6 5.7 0 0 0 2093.5 2324.1"/>
<path class="k" d="M2074.3 2336.9 A9.6 5.7 0 0 0 2093.5 2336.9"/>
<ellipse class="kf" cx="1508" cy="1935.7" rx="29.3" ry="16.8"/>
<ellipse class="k" cx="1508" cy="1935.7" rx="12.5" ry="7.6"/>
<path class="kf" d="M1488 2036.1 A19.6 10.7 0 0 1 1527 2036.1 L1527 2050.6 A19.6 10 0 0 1 1488 2050.6 Z"/>
<path class="k" d="M1488 2036.1 A19.6 10.7 0 0 0 1527 2036.1"/>
<path class="k" d="M1497.9 2045.4L1497.9 2059.4"/>
<path class="k" d="M1517.1 2045.4L1517.1 2059.4"/>
<path class="kf" d="M1497.9 1973.8 L1497.9 2034.5 A9.6 5.7 0 0 0 1517.1 2034.5 L1517.1 1973.8 A9.6 5.7 0 0 0 1497.9 1973.8 Z"/>
<path class="k" d="M1497.9 1973.8 A9.6 5.7 0 0 0 1517.1 1973.8"/>
<path class="k" d="M1497.9 1985.8 A9.6 5.7 0 0 0 1517.1 1985.8"/>
<path class="k" d="M1497.9 1997.9 A9.6 5.7 0 0 0 1517.1 1997.9"/>
<path class="k" d="M1497.9 2010.7 A9.6 5.7 0 0 0 1517.1 2010.7"/>
<ellipse class="kf" cx="383.3" cy="2794" rx="19.5" ry="10.9"/>
<ellipse class="k" cx="383.3" cy="2794" rx="10" ry="5.6"/>
<path class="kf" d="M363.8 2893.8 A19.6 10.7 0 0 1 402.9 2893.8 L402.9 2908.3 A19.6 10 0 0 1 363.8 2908.3 Z"/>
<path class="k" d="M363.8 2893.8 A19.6 10.7 0 0 0 402.9 2893.8"/>
<path class="k" d="M373.7 2903.1L373.7 2917.1"/>
<path class="k" d="M392.9 2903.1L392.9 2917.1"/>
<path class="kf" d="M373.7 2831.5 L373.7 2892.2 A9.6 5.7 0 0 0 392.9 2892.2 L392.9 2831.5 A9.6 5.7 0 0 0 373.7 2831.5 Z"/>
<path class="k" d="M373.7 2831.5 A9.6 5.7 0 0 0 392.9 2831.5"/>
<path class="k" d="M373.7 2843.5 A9.6 5.7 0 0 0 392.9 2843.5"/>
<path class="k" d="M373.7 2855.6 A9.6 5.7 0 0 0 392.9 2855.6"/>
<path class="k" d="M373.7 2868.4 A9.6 5.7 0 0 0 392.9 2868.4"/>
<ellipse cx="790.3" cy="2916.1" rx="25" ry="14.6" style="fill:#000;stroke:none"/>
<ellipse class="kf" cx="790.3" cy="2912.2" rx="23.6" ry="13.7"/>
<ellipse cx="790.3" cy="2911.2" rx="14" ry="9" style="fill:#000;stroke:none"/>
<ellipse cx="790.3" cy="2909.3" rx="11" ry="5.7" style="fill:#fff;stroke:none"/>
<ellipse cx="790.3" cy="2909.1" rx="8" ry="4.5" style="fill:#000;stroke:none"/>
<ellipse cx="790.3" cy="2909.1" rx="5.1" ry="2.1" style="fill:#fff;stroke:none"/>
<ellipse class="kf" cx="790.3" cy="2968.8" rx="19.5" ry="10.9"/>
<ellipse class="k" cx="790.3" cy="2968.8" rx="10" ry="5.6"/>
<path class="kf" d="M770.8 3068.9 A19.6 10.7 0 0 1 809.8 3068.9 L809.8 3083.4 A19.6 10 0 0 1 770.8 3083.4 Z"/>
<path class="k" d="M770.8 3068.9 A19.6 10.7 0 0 0 809.8 3068.9"/>
<path class="k" d="M780.7 3078.2L780.7 3092.2"/>
<path class="k" d="M799.9 3078.2L799.9 3092.2"/>
<path class="kf" d="M780.7 3006.6 L780.7 3067.3 A9.6 5.7 0 0 0 799.9 3067.3 L799.9 3006.6 A9.6 5.7 0 0 0 780.7 3006.6 Z"/>
<path class="k" d="M780.7 3006.6 A9.6 5.7 0 0 0 799.9 3006.6"/>
<path class="k" d="M780.7 3018.6 A9.6 5.7 0 0 0 799.9 3018.6"/>
<path class="k" d="M780.7 3030.7 A9.6 5.7 0 0 0 799.9 3030.7"/>
<path class="k" d="M780.7 3043.5 A9.6 5.7 0 0 0 799.9 3043.5"/>
<ellipse cx="910.5" cy="3124.7" rx="25" ry="14.6" style="fill:#000;stroke:none"/>
<ellipse class="kf" cx="910.5" cy="3120.8" rx="23.6" ry="13.7"/>
<ellipse cx="910.5" cy="3119.8" rx="14" ry="9" style="fill:#000;stroke:none"/>
<ellipse cx="910.5" cy="3117.9" rx="11" ry="5.7" style="fill:#fff;stroke:none"/>
<ellipse cx="910.5" cy="3117.7" rx="8" ry="4.5" style="fill:#000;stroke:none"/>
<ellipse cx="910.5" cy="3117.7" rx="5.1" ry="2.1" style="fill:#fff;stroke:none"/>
<ellipse class="kf" cx="910.5" cy="3166.7" rx="19.5" ry="10.9"/>
<ellipse class="k" cx="910.5" cy="3166.7" rx="10" ry="5.6"/>
<path class="kf" d="M891 3266.4 A19.6 10.7 0 0 1 930 3266.4 L930 3280.9 A19.6 10 0 0 1 891 3280.9 Z"/>
<path class="k" d="M891 3266.4 A19.6 10.7 0 0 0 930 3266.4"/>
<path class="k" d="M900.9 3275.7L900.9 3289.7"/>
<path class="k" d="M920.1 3275.7L920.1 3289.7"/>
<path class="kf" d="M900.9 3204.1 L900.9 3264.8 A9.6 5.7 0 0 0 920.1 3264.8 L920.1 3204.1 A9.6 5.7 0 0 0 900.9 3204.1 Z"/>
<path class="k" d="M900.9 3204.1 A9.6 5.7 0 0 0 920.1 3204.1"/>
<path class="k" d="M900.9 3216.1 A9.6 5.7 0 0 0 920.1 3216.1"/>
<path class="k" d="M900.9 3228.2 A9.6 5.7 0 0 0 920.1 3228.2"/>
<path class="k" d="M900.9 3241 A9.6 5.7 0 0 0 920.1 3241"/>
<ellipse class="kf" cx="1148.2" cy="2906.2" rx="19.5" ry="10.9"/>
<ellipse class="k" cx="1148.2" cy="2906.2" rx="10" ry="5.6"/>
<path class="kf" d="M1128.2 3006.6 A19.6 10.7 0 0 1 1167.3 3006.6 L1167.3 3021.1 A19.6 10 0 0 1 1128.2 3021.1 Z"/>
<path class="k" d="M1128.2 3006.6 A19.6 10.7 0 0 0 1167.3 3006.6"/>
<path class="k" d="M1138.2 3015.9L1138.2 3029.9"/>
<path class="k" d="M1157.4 3015.9L1157.4 3029.9"/>
<path class="kf" d="M1138.2 2944.3 L1138.2 3005 A9.6 5.7 0 0 0 1157.4 3005 L1157.4 2944.3 A9.6 5.7 0 0 0 1138.2 2944.3 Z"/>
<path class="k" d="M1138.2 2944.3 A9.6 5.7 0 0 0 1157.4 2944.3"/>
<path class="k" d="M1138.2 2956.3 A9.6 5.7 0 0 0 1157.4 2956.3"/>
<path class="k" d="M1138.2 2968.4 A9.6 5.7 0 0 0 1157.4 2968.4"/>
<path class="k" d="M1138.2 2981.2 A9.6 5.7 0 0 0 1157.4 2981.2"/>
<ellipse class="kf" cx="1211.8" cy="2769.5" rx="29.3" ry="16.8"/>
<ellipse class="k" cx="1211.8" cy="2769.5" rx="12.5" ry="7.6"/>
<path class="kf" d="M1192.4 2868.4 A19.6 10.7 0 0 1 1231.5 2868.4 L1231.5 2882.9 A19.6 10 0 0 1 1192.4 2882.9 Z"/>
<path class="k" d="M1192.4 2868.4 A19.6 10.7 0 0 0 1231.5 2868.4"/>
<path class="k" d="M1202.3 2877.7L1202.3 2891.7"/>
<path class="k" d="M1221.5 2877.7L1221.5 2891.7"/>
<path class="kf" d="M1202.3 2806.1 L1202.3 2866.8 A9.6 5.7 0 0 0 1221.5 2866.8 L1221.5 2806.1 A9.6 5.7 0 0 0 1202.3 2806.1 Z"/>
<path class="k" d="M1202.3 2806.1 A9.6 5.7 0 0 0 1221.5 2806.1"/>
<path class="k" d="M1202.3 2818.1 A9.6 5.7 0 0 0 1221.5 2818.1"/>
<path class="k" d="M1202.3 2830.2 A9.6 5.7 0 0 0 1221.5 2830.2"/>
<path class="k" d="M1202.3 2843 A9.6 5.7 0 0 0 1221.5 2843"/>
<ellipse cx="1392.9" cy="2517.9" rx="25" ry="14.6" style="fill:#000;stroke:none"/>
<ellipse class="kf" cx="1392.9" cy="2514" rx="23.6" ry="13.7"/>
<ellipse cx="1392.9" cy="2513" rx="14" ry="9" style="fill:#000;stroke:none"/>
<ellipse cx="1392.9" cy="2511.1" rx="11" ry="5.7" style="fill:#fff;stroke:none"/>
<ellipse cx="1392.9" cy="2510.9" rx="8" ry="4.5" style="fill:#000;stroke:none"/>
<ellipse cx="1392.9" cy="2510.9" rx="5.1" ry="2.1" style="fill:#fff;stroke:none"/>
<ellipse class="kf" cx="1392.9" cy="2562.5" rx="19.5" ry="10.9"/>
<ellipse class="k" cx="1392.9" cy="2562.5" rx="10" ry="5.6"/>
<path class="kf" d="M1373.4 2663.2 A19.6 10.7 0 0 1 1412.5 2663.2 L1412.5 2677.7 A19.6 10 0 0 1 1373.4 2677.7 Z"/>
<path class="k" d="M1373.4 2663.2 A19.6 10.7 0 0 0 1412.5 2663.2"/>
<path class="k" d="M1383.3 2672.5L1383.3 2686.5"/>
<path class="k" d="M1402.5 2672.5L1402.5 2686.5"/>
<path class="kf" d="M1383.3 2600.9 L1383.3 2661.6 A9.6 5.7 0 0 0 1402.5 2661.6 L1402.5 2600.9 A9.6 5.7 0 0 0 1383.3 2600.9 Z"/>
<path class="k" d="M1383.3 2600.9 A9.6 5.7 0 0 0 1402.5 2600.9"/>
<path class="k" d="M1383.3 2612.9 A9.6 5.7 0 0 0 1402.5 2612.9"/>
<path class="k" d="M1383.3 2625 A9.6 5.7 0 0 0 1402.5 2625"/>
<path class="k" d="M1383.3 2637.8 A9.6 5.7 0 0 0 1402.5 2637.8"/>
<ellipse cx="1563.3" cy="2481.1" rx="25" ry="14.6" style="fill:#000;stroke:none"/>
<ellipse class="kf" cx="1563.3" cy="2477.2" rx="23.6" ry="13.7"/>
<ellipse cx="1563.3" cy="2476.2" rx="14" ry="9" style="fill:#000;stroke:none"/>
<ellipse cx="1563.3" cy="2474.3" rx="11" ry="5.7" style="fill:#fff;stroke:none"/>
<ellipse cx="1563.3" cy="2474.1" rx="8" ry="4.5" style="fill:#000;stroke:none"/>
<ellipse cx="1563.3" cy="2474.1" rx="5.1" ry="2.1" style="fill:#fff;stroke:none"/>
<ellipse class="kf" cx="1563.3" cy="2534" rx="19.5" ry="10.9"/>
<ellipse class="k" cx="1563.3" cy="2534" rx="10" ry="5.6"/>
<path class="kf" d="M1543.8 2634 A19.6 10.7 0 0 1 1582.8 2634 L1582.8 2648.5 A19.6 10 0 0 1 1543.8 2648.5 Z"/>
<path class="k" d="M1543.8 2634 A19.6 10.7 0 0 0 1582.8 2634"/>
<path class="k" d="M1553.7 2643.3L1553.7 2657.3"/>
<path class="k" d="M1572.9 2643.3L1572.9 2657.3"/>
<path class="kf" d="M1553.7 2571.7 L1553.7 2632.4 A9.6 5.7 0 0 0 1572.9 2632.4 L1572.9 2571.7 A9.6 5.7 0 0 0 1553.7 2571.7 Z"/>
<path class="k" d="M1553.7 2571.7 A9.6 5.7 0 0 0 1572.9 2571.7"/>
<path class="k" d="M1553.7 2583.7 A9.6 5.7 0 0 0 1572.9 2583.7"/>
<path class="k" d="M1553.7 2595.8 A9.6 5.7 0 0 0 1572.9 2595.8"/>
<path class="k" d="M1553.7 2608.6 A9.6 5.7 0 0 0 1572.9 2608.6"/>
</g>
<g id="pin">
<path class="dot" d="M1217.3 1925 L1217.3 1935.5 A18.5 9.3 0 0 0 1254.3 1935.5 L1254.3 1925 A18.5 9 0 0 0 1217.3 1925 Z"/>
<ellipse cx="1235.8" cy="1926.5" rx="15.7" ry="9" style="fill:#fff;stroke:none"/>
<rect x="1220.8" y="1880" width="30" height="47.5" style="fill:#fff;stroke:none"/>
<path class="k3" d="M1222.2 1880L1222.2 1928"/>
<path class="k3" d="M1249.3 1880L1249.3 1928"/>
<ellipse cx="1235.8" cy="1880" rx="15" ry="9" style="fill:#000;stroke:none"/>
<ellipse cx="1235.8" cy="1880.3" rx="8.7" ry="4.9" style="fill:#fff;stroke:none"/>
</g>
<g id="brackets">
<path class="k45" d="M1954.8 1031.5 L1957.4 1033.5 L1961.4 1045.2 L1964.1 1054.3 Q1965.3 1057 1968 1058.1 L2002.6 1074.7 Q2004.5 1075.8 2004.5 1078 L2004.5 1138 L1988 1151 L1968.7 1141.6"/>
<path class="k" d="M1953.7 1031.5L1953.7 1089.6"/>
<path class="k" d="M1953.7 1089.6 L1930.6 1092.6 L1929.4 1094.2 L1932.6 1108"/>
<path class="k" d="M1952.4 1090.2 L1957.6 1102.8"/>
<path class="k45" d="M1932.6 1108.4 L1935.2 1110.6 L1957.4 1107.3 L1963.5 1104.5"/>
<path class="dot" d="M1957.5 1101 L1963.2 1097.5 L1964.4 1108.5 L1958 1108.5 Z"/>
<path class="k" d="M1964.4 1062.1L1964.4 1110.8"/>
<path class="k" d="M1962.7 1110.8 L1976 1116.2 Q1983 1119.5 1983.3 1124 L1983 1128.8 L1968.7 1139.8 L1968.7 1142"/>
<path class="k" d="M1984.6 1130.3L2000.3 1137.3"/>
<ellipse class="k" cx="1940.5" cy="1101" rx="4" ry="2.7"/>
<ellipse class="k" cx="1982.6" cy="1140.7" rx="4" ry="2.6"/>
<path class="k48" d="M2286.6 1071.6 L2323.9 1085.9 L2327.2 1088.8 L2339.7 1113 L2340.3 1117.6 L2340.3 1172 Q2340.6 1177 2344.2 1177.1 L2363.2 1173.3"/>
<path class="k" d="M2286.6 1071.3 Q2281 1071.5 2280.5 1076 L2280.5 1130.3 L2301.7 1138.4"/>
<circle class="dot" cx="2306.3" cy="1136.3" r="4.4"/>
<circle cx="2306.4" cy="1135.6" r="0.8" style="fill:#fff;stroke:none"/>
<path class="k" d="M2310 1134.4 L2322.6 1139.6 L2329.8 1149.7 L2330.5 1159.5 L2337 1172.6 L2341 1176.4"/>
<path class="k" d="M2323.5 1088.8L2323.5 1135.3"/>
<path class="k" d="M2342 1157.7 L2358.6 1157.7 L2364.5 1169.4 L2363.2 1173.3"/>
<ellipse class="k" cx="2352.1" cy="1165.6" rx="4.5" ry="2.4"/>
</g>
<g id="plateU">
<path class="k" d="M1833 1817.5 L1729.3 1877.9 L1722.9 1877.9 L1701.9 1865.5 L1702.1 1864.5 L1703.1 1863.4 L1714.1 1857.8 L1715.8 1856.5 L1715.9 1854.5 L1714.1 1852.7 L1711.1 1852 L1708.1 1852.5 L1705.5 1853.6 L1693.6 1860.7 L1579 1794.1 L1579.2 1793.1 L1580.2 1792 L1591.2 1786.4 L1592.9 1785.1 L1593 1783.1 L1591.2 1781.3 L1588.2 1780.6 L1585.2 1781.1 L1582.6 1782.2 L1570.7 1789.3 L1550.8 1778.2 L1550 1776.8 L1551 1775.6 L2118 1447.6 L2293 1550"/>
<path class="k33" d="M2293 1550 L2293.4 1551.3 L2092 1674.5"/>
<path class="k33" d="M1834 1818.3 L1729.8 1878.6"/>
<path class="k" d="M1860.7 1829.3 L1822.3 1807 L2071.3 1661.9 L2109.7 1685.5"/>
<path class="k33" d="M2109.7 1685.5 L1860.7 1829.3"/>
<ellipse class="dot" cx="2084" cy="1686.2" rx="7.9" ry="7.1"/>
<rect x="2083.2" y="1688.4" width="3.6" height="1.6" style="fill:#fff;stroke:none"/>
<ellipse class="dot" cx="1868.8" cy="1811" rx="7.9" ry="7.1"/>
<rect x="1868" y="1813.2" width="3.6" height="1.6" style="fill:#fff;stroke:none"/>
<ellipse class="k" cx="2121.4" cy="1484.8" rx="10.5" ry="6.3"/>
<ellipse class="k" cx="2244.3" cy="1555.2" rx="10.5" ry="6.3"/>
<ellipse class="k" cx="1801" cy="1651" rx="10.5" ry="6.3"/>
<ellipse class="k" cx="1782.4" cy="1808.6" rx="13.5" ry="8.2"/>
<path class="k" d="M1939 1579.5 L1939 1712.2 A6.2 3.4 0 0 0 1951.4 1712.2 L1951.4 1579.5 A6.2 4.2 0 0 0 1939 1579.5 Z"/>
<path class="k2" d="M1939 1712.2 A6.2 3.2 0 0 1 1951.4 1712.2"/>
<path class="k" d="M1650.3 1744.4 L1880.2 1744.4 A6.5 4.2 0 0 1 1880.2 1752.8 L1650.3 1752.8 A6.5 4.2 0 0 1 1650.3 1744.4 Z"/>
</g>
<g id="plateL">
<path class="k" d="M2444.8 1748 L2444.3 1745.9 L2427.7 1736.3 L2425 1732.5 L2426 1729.8 L2429.5 1727.5 L2435.7 1727.2 L2442.2 1728.2 L2458.8 1739 L2479.7 1727.2 L2479.7 1723.4 L2300.2 1620.5 L1731.7 1949.7 L1906.7 2050.8 L1912 2054 L1920 2053.8 L1923.3 2051.7 L1921.7 2049.2 L1905.8 2040 L1903.7 2037 L1905.5 2034.5 L1910 2034 L1916.7 2036.7 L1930 2045"/>
<path class="k33" d="M2444.8 1748.3 L1930 2045.4"/>
<ellipse class="k" cx="2290.7" cy="1649" rx="10.5" ry="6.3"/>
<ellipse class="k" cx="2217.9" cy="1858.3" rx="10.5" ry="6.3"/>
<ellipse class="k" cx="2011.8" cy="1977.3" rx="10.5" ry="6.3"/>
<ellipse class="k" cx="1764.8" cy="1953.4" rx="10.5" ry="6.3"/>
<ellipse class="k" cx="2084.6" cy="1757.3" rx="7" ry="3.4" transform="rotate(25 2084.6 1757.3)"/>
<ellipse class="k" cx="1870.6" cy="1882" rx="7" ry="3.4" transform="rotate(25 1870.6 1882)"/>
<ellipse class="dot" cx="2302.6" cy="1746.7" rx="5" ry="3.8"/>
<ellipse class="dot" cx="2351.2" cy="1784.3" rx="5" ry="3.8"/>
<ellipse class="dot" cx="2150.2" cy="1807" rx="5" ry="3.8"/>
<ellipse class="dot" cx="2192.7" cy="1847" rx="5" ry="3.8"/>
</g>
<g id="blockB1">
<path class="k" d="M771.4 1969.8 L869.8 1912.6 L971.4 1927.4 L1083.6 1991.7 L1083.6 2065.5 L988.3 2121 L771.4 1994.8Z"/>
<path class="k" d="M771.4 1969.8 L988.3 2095.7 L1083.6 2041.7"/>
<path class="k" d="M988.3 2095.7L988.3 2121"/>
</g>
<g id="blockB2">
<path class="k" d="M415.4 2268 L556.3 2186.6 L725 2284 L725 2310 L584 2390.5 L415.4 2292.5Z"/>
<path class="k" d="M415.4 2268 L584 2366 L725 2284"/>
<path class="k" d="M584 2366L584 2390.5"/>
</g>
<g id="plateM">
<path class="k" d="M1591.7 2238.3 L1229.8 2029.8 L993.8 2165.5 C989.4 2168.1 976.7 2174.1 967.6 2181 C958.5 2187.9 947.3 2199.2 939 2207.1 C930.7 2215 923.9 2221 917.6 2228.6 C911.3 2236.2 905.6 2245.8 901 2252.4 C896.4 2259 891.7 2265.3 889.8 2267.9 L890.2 2271.4 L893.8 2275.7 L921.2 2290.5 L933.1 2283.4 L935.7 2282.3 L938.7 2281.8 L941.7 2282.5 L943.5 2284.3 L943.4 2286.3 L941.7 2287.6 L930.7 2293.2 L929.7 2294.3 L929.5 2295.3 L1051 2365.5 L1062.9 2358.4 L1065.5 2357.3 L1068.5 2356.8 L1071.5 2357.5 L1073.3 2359.3 L1073.2 2361.3 L1071.5 2362.6 L1060.5 2368.2 L1059.5 2369.3 L1059.3 2370.3 L1194.8 2449 L1206.7 2441.9 L1209.3 2440.8 L1212.3 2440.3 L1215.3 2441 L1217.1 2442.8 L1217 2444.8 L1215.3 2446.1 L1204.3 2451.7 L1203.3 2452.8 L1203.1 2453.8 L1206.7 2456.8 L1211.4 2459.2 L1217.4 2459.2 L1223.3 2456.2"/>
<path class="k33" d="M1222.5 2456.7 L1591.7 2242.6 L1591.7 2238.3"/>
<ellipse class="k" cx="1242.9" cy="2052.4" rx="10.5" ry="6.3"/>
<ellipse class="k" cx="1082.2" cy="2135" rx="10.5" ry="6.3"/>
<ellipse class="k" cx="1235.7" cy="2173" rx="14" ry="8.6"/>
<ellipse class="k" cx="1419" cy="2154.8" rx="10.5" ry="6.3"/>
<ellipse class="k" cx="1563.2" cy="2238" rx="10.5" ry="6.3"/>
<ellipse class="k" cx="1391.8" cy="2332.3" rx="10.5" ry="6.3"/>
<path class="k" d="M1185 2206.5 L1185 2269.2 A6.2 3.4 0 0 0 1197.4 2269.2 L1197.4 2206.5 A6.2 4.2 0 0 0 1185 2206.5 Z"/>
<path class="k2" d="M1185 2269.2 A6.2 3.2 0 0 1 1197.4 2269.2"/>
<path class="k" d="M1185 2310.5 L1185 2372.2 A6.2 3.4 0 0 0 1197.4 2372.2 L1197.4 2310.5 A6.2 4.2 0 0 0 1185 2310.5 Z"/>
<path class="k2" d="M1185 2372.2 A6.2 3.2 0 0 1 1197.4 2372.2"/>
<path class="k" d="M1047.3 2285.4 L1155.2 2285.4 A6.5 4.2 0 0 1 1155.2 2293.8 L1047.3 2293.8 A6.5 4.2 0 0 1 1047.3 2285.4 Z"/>
<path class="k" d="M1226.3 2285.4 L1335.2 2285.4 A6.5 4.2 0 0 1 1335.2 2293.8 L1226.3 2293.8 A6.5 4.2 0 0 1 1226.3 2285.4 Z"/>
</g>
<g id="plateS">
<path class="k" d="M936.6 2342 L1178.7 2481 L1179 2484 L914 2636 L909 2637 L904 2635.5 L668.7 2499 L668.7 2496.5Z"/>
<ellipse class="k" cx="711.6" cy="2504" rx="10" ry="6.8"/>
<ellipse class="k" cx="805.4" cy="2557.3" rx="10" ry="6.8"/>
<ellipse class="k" cx="910" cy="2618.3" rx="10" ry="6.8"/>
<ellipse class="k" cx="950" cy="2366.6" rx="5" ry="3.4"/>
<ellipse class="k" cx="1042.7" cy="2419.6" rx="5" ry="3.4"/>
<ellipse class="k" cx="1148" cy="2481" rx="5" ry="3.4"/>
<path class="k" d="M931.5 2405.5 L931.5 2467.2 A6.2 3.4 0 0 0 943.9 2467.2 L943.9 2405.5 A6.2 4.2 0 0 0 931.5 2405.5 Z"/>
<path class="k2" d="M931.5 2467.2 A6.2 3.2 0 0 1 943.9 2467.2"/>
<path class="k" d="M931.5 2509.5 L931.5 2570.2 A6.2 3.4 0 0 0 943.9 2570.2 L943.9 2509.5 A6.2 4.2 0 0 0 931.5 2509.5 Z"/>
<path class="k2" d="M931.5 2570.2 A6.2 3.2 0 0 1 943.9 2570.2"/>
<path class="k" d="M794.4 2483.8 L900.6 2483.8 A6.5 4.2 0 0 1 900.6 2492.2 L794.4 2492.2 A6.5 4.2 0 0 1 794.4 2483.8 Z"/>
<path class="k" d="M972.9 2483.8 L1081.2 2483.8 A6.5 4.2 0 0 1 1081.2 2492.2 L972.9 2492.2 A6.5 4.2 0 0 1 972.9 2483.8 Z"/>
</g>
<g id="plateLL">
<path class="k" d="M292.9 2645.8 L391 2589 L395.5 2588 L400 2589 L454.8 2620.8 L581.5 2547.6 L822.6 2686.3 L823 2689.5 L598 2819 L593.5 2820.2 L589 2819 L292.9 2648.5Z"/>
<ellipse class="k" cx="591.5" cy="2573.6" rx="10.5" ry="6.6"/>
<ellipse class="k" cx="684.6" cy="2627.4" rx="9.5" ry="6.3"/>
<ellipse class="k" cx="790" cy="2688.6" rx="10.5" ry="6.8"/>
<ellipse class="k" cx="638" cy="2756" rx="18" ry="11"/>
<ellipse class="k" cx="383.3" cy="2685" rx="4.6" ry="3"/>
<ellipse class="k" cx="481" cy="2740.5" rx="4.6" ry="3"/>
<ellipse class="k" cx="576.8" cy="2796.6" rx="4.6" ry="3"/>
<path class="k" d="M397.8 2620 L397.8 2664.8 A6.2 3.4 0 0 0 410.2 2664.8 L410.2 2620 A6.2 4.2 0 0 0 397.8 2620 Z"/>
<path class="k2" d="M397.8 2664.8 A6.2 3.2 0 0 1 410.2 2664.8"/>
<path class="k" d="M577.8 2603.5 L577.8 2663.2 A6.2 3.4 0 0 0 590.2 2663.2 L590.2 2603.5 A6.2 4.2 0 0 0 577.8 2603.5 Z"/>
<path class="k2" d="M577.8 2663.2 A6.2 3.2 0 0 1 590.2 2663.2"/>
<path class="k" d="M577.8 2706.5 L577.8 2767.8 A6.2 3.4 0 0 0 590.2 2767.8 L590.2 2706.5 A6.2 4.2 0 0 0 577.8 2706.5 Z"/>
<path class="k2" d="M577.8 2767.8 A6.2 3.2 0 0 1 590.2 2767.8"/>
<path class="k" d="M440.9 2680.5 L547.1 2680.5 A6.5 4.2 0 0 1 547.1 2688.8 L440.9 2688.8 A6.5 4.2 0 0 1 440.9 2680.5 Z"/>
<path class="k" d="M619.4 2680.5 L726.6 2680.5 A6.5 4.2 0 0 1 726.6 2688.8 L619.4 2688.8 A6.5 4.2 0 0 1 619.4 2680.5 Z"/>
</g>
<circle cx="352.5" cy="791.5" r="33.1" style="fill:#008000;stroke:#000;stroke-width:5"/>
<text x="331.4" y="803" font-family="Liberation Sans, sans-serif" font-size="29.4" fill="#fff" stroke="none">15</text>
<text x="2357" y="3412" font-family="Liberation Mono, monospace" font-size="32.5" fill="#d4d4d4" stroke="none">J-C18267</text>
</svg>
</body></html>
